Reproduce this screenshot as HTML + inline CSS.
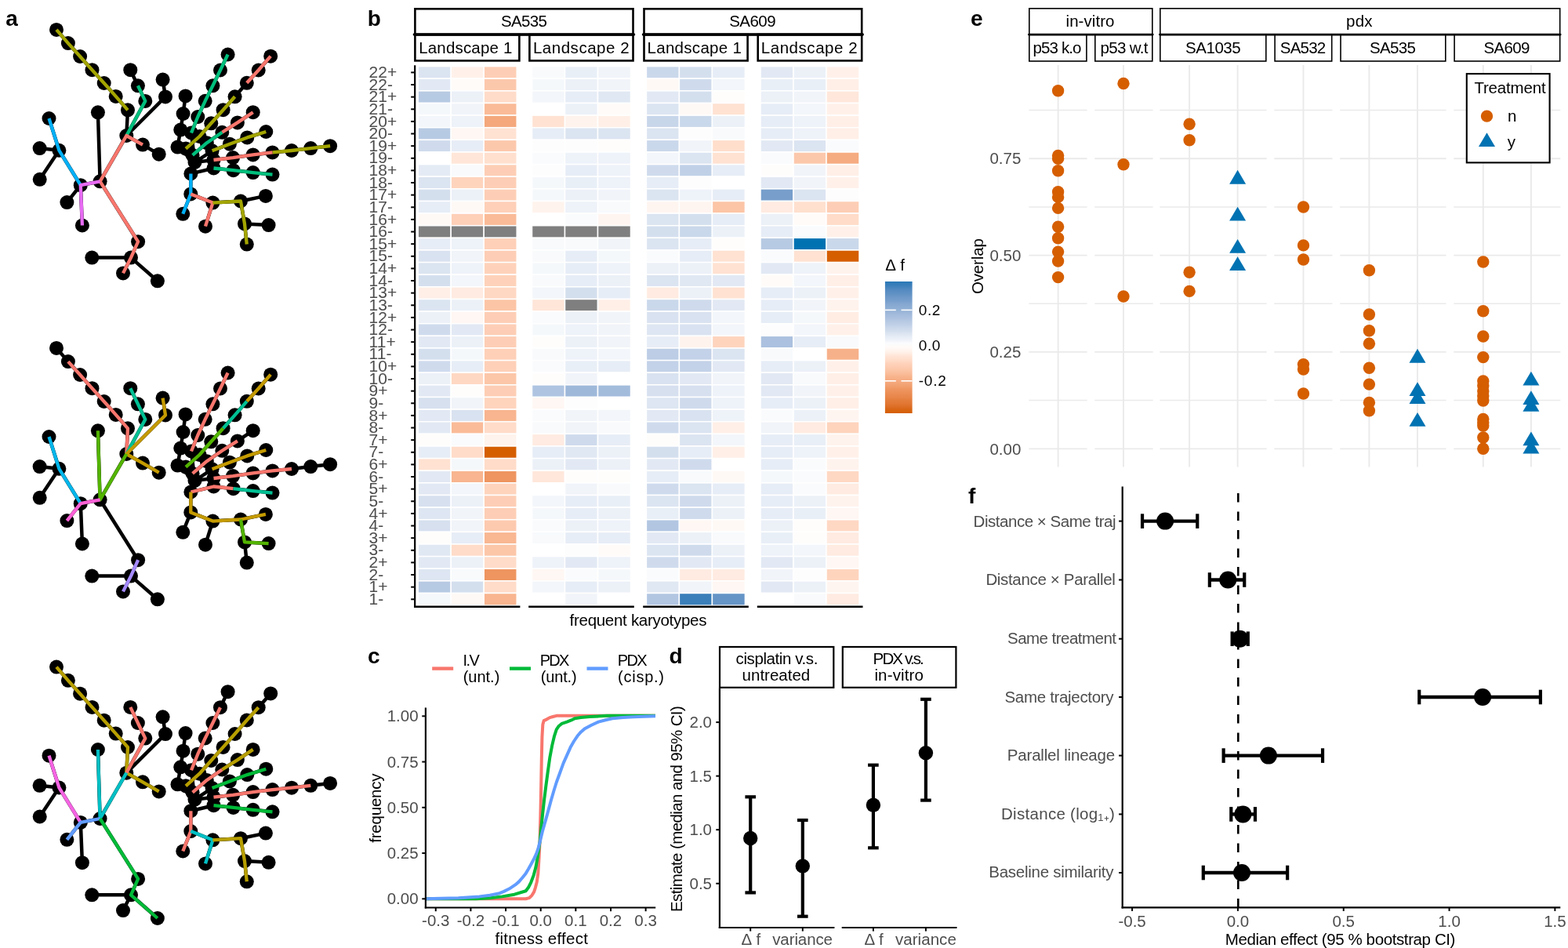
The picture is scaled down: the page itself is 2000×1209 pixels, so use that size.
<!DOCTYPE html>
<html><head><meta charset="utf-8"><title>Figure</title>
<style>
html,body{margin:0;padding:0;background:#fff;}
svg{display:block;}
svg text{font-family:'Liberation Sans', Arial, Helvetica, sans-serif;}
</style></head><body>
<svg width="2000" height="1209" viewBox="0 0 2000 1209">
<rect width="2000" height="1209" fill="#fff"/>
<text x="7.25" y="32.75" font-size="28" fill="#000" font-weight="bold" textLength="15.5" lengthAdjust="spacing">a</text>
<g transform="translate(0,0)">
<path d="M72,37.9L86.9,55.1 M86.9,55.1L102.1,72 M102.1,72L117.5,89.2 M117.5,89.2L132.7,106 M132.7,106L147.7,122.9 M147.7,122.9L163,140.3 M163,140.3L161.3,173 M161.3,173L127.6,231.3 M166.3,89.2L175.9,109.3 M175.9,109.3L185.3,128.9 M185.3,128.9L161.3,173 M207.6,101.6L211,123.4 M211,123.4L161.3,173 M161.3,173L182,184.6 M182,184.6L202.7,196.7 M124.9,143.3L127.6,231.3 M62.5,151L75.4,191.8 M75.4,191.8L102.8,236.2 M102.8,236.2L127.6,231.3 M127.6,231.3L176.1,308.2 M176.1,308.2L167,328.6 M167,328.6L157,348.4 M75.4,191.8L50.6,189.1 M75.4,191.8L50.7,228.8 M102.8,236.2L85.4,258.1 M102.8,236.2L104.9,287.5 M167,328.6L117.3,328.6 M167,328.6L200.9,358.3 M236.6,122.4L233.6,145 M233.6,145L230.3,165.6 M230.3,165.6L226.5,187.6 M226.5,187.6L248.5,207 M290.6,69.5L281,89.5 M281,89.5L271.4,109.3 M271.4,109.3L261.7,128.8 M261.7,128.8L252.3,149 M252.3,149L244,169.5 M244,169.5L248.5,207 M345.2,71.7L329.7,89.5 M329.7,89.5L314.8,105.8 M314.8,105.8L299.6,123.3 M299.6,123.3L284.6,140.2 M284.6,140.2L269.3,157.3 M269.3,157.3L254.5,174 M254.5,174L237,189.6 M237,189.6L248.5,207 M322.7,143.2L302.9,156.4 M302.9,156.4L283.3,168.8 M283.3,168.8L263.8,182.2 M263.8,182.2L245.6,197.9 M245.6,197.9L248.5,207 M339.3,168L315.3,175.4 M315.3,175.4L292.9,183.7 M292.9,183.7L270.6,192.3 M270.6,192.3L248.5,207 M421.1,186.2L396.3,189.1 M396.3,189.1L372,192 M372,192L347.5,194.4 M347.5,194.4L322.7,197.4 M322.7,197.4L297.1,201.1 M297.1,201.1L272.5,204 M272.5,204L248.5,207 M347.5,222.6L322.7,220.1 M322.7,220.1L297.6,217.2 M297.6,217.2L272.5,214.5 M272.5,214.5L243.4,221.5 M248.5,207L243.4,221.5 M243.4,221.5L243.3,247.4 M243.3,247.4L233.3,272.8 M243.3,247.4L271.4,258.6 M271.4,258.6L262,288.7 M271.4,258.6L307,256.5 M307,256.5L338.9,249.9 M307,256.5L312,285.4 M312,285.4L314.8,311.6 M312,285.4L342.6,287.1" stroke="#000" stroke-width="4.5" fill="none"/>
<circle cx="72" cy="37.9" r="9" fill="#000"/>
<circle cx="86.9" cy="55.1" r="9" fill="#000"/>
<circle cx="102.1" cy="72" r="9" fill="#000"/>
<circle cx="117.5" cy="89.2" r="9" fill="#000"/>
<circle cx="132.7" cy="106" r="9" fill="#000"/>
<circle cx="147.7" cy="122.9" r="9" fill="#000"/>
<circle cx="163" cy="140.3" r="9" fill="#000"/>
<circle cx="161.3" cy="173" r="9" fill="#000"/>
<circle cx="166.3" cy="89.2" r="9" fill="#000"/>
<circle cx="175.9" cy="109.3" r="9" fill="#000"/>
<circle cx="185.3" cy="128.9" r="9" fill="#000"/>
<circle cx="207.6" cy="101.6" r="9" fill="#000"/>
<circle cx="211" cy="123.4" r="9" fill="#000"/>
<circle cx="182" cy="184.6" r="9" fill="#000"/>
<circle cx="202.7" cy="196.7" r="9" fill="#000"/>
<circle cx="124.9" cy="143.3" r="9" fill="#000"/>
<circle cx="62.5" cy="151" r="9" fill="#000"/>
<circle cx="75.4" cy="191.8" r="9" fill="#000"/>
<circle cx="50.6" cy="189.1" r="9" fill="#000"/>
<circle cx="50.7" cy="228.8" r="9" fill="#000"/>
<circle cx="102.8" cy="236.2" r="9" fill="#000"/>
<circle cx="127.6" cy="231.3" r="9" fill="#000"/>
<circle cx="85.4" cy="258.1" r="9" fill="#000"/>
<circle cx="104.9" cy="287.5" r="9" fill="#000"/>
<circle cx="176.1" cy="308.2" r="9" fill="#000"/>
<circle cx="167" cy="328.6" r="9" fill="#000"/>
<circle cx="117.3" cy="328.6" r="9" fill="#000"/>
<circle cx="157" cy="348.4" r="9" fill="#000"/>
<circle cx="200.9" cy="358.3" r="9" fill="#000"/>
<circle cx="236.6" cy="122.4" r="9" fill="#000"/>
<circle cx="233.6" cy="145" r="9" fill="#000"/>
<circle cx="230.3" cy="165.6" r="9" fill="#000"/>
<circle cx="226.5" cy="187.6" r="9" fill="#000"/>
<circle cx="290.6" cy="69.5" r="9" fill="#000"/>
<circle cx="281" cy="89.5" r="9" fill="#000"/>
<circle cx="271.4" cy="109.3" r="9" fill="#000"/>
<circle cx="261.7" cy="128.8" r="9" fill="#000"/>
<circle cx="252.3" cy="149" r="9" fill="#000"/>
<circle cx="244" cy="169.5" r="9" fill="#000"/>
<circle cx="345.2" cy="71.7" r="9" fill="#000"/>
<circle cx="329.7" cy="89.5" r="9" fill="#000"/>
<circle cx="314.8" cy="105.8" r="9" fill="#000"/>
<circle cx="299.6" cy="123.3" r="9" fill="#000"/>
<circle cx="284.6" cy="140.2" r="9" fill="#000"/>
<circle cx="269.3" cy="157.3" r="9" fill="#000"/>
<circle cx="254.5" cy="174" r="9" fill="#000"/>
<circle cx="237" cy="189.6" r="9" fill="#000"/>
<circle cx="322.7" cy="143.2" r="9" fill="#000"/>
<circle cx="302.9" cy="156.4" r="9" fill="#000"/>
<circle cx="283.3" cy="168.8" r="9" fill="#000"/>
<circle cx="263.8" cy="182.2" r="9" fill="#000"/>
<circle cx="245.6" cy="197.9" r="9" fill="#000"/>
<circle cx="339.3" cy="168" r="9" fill="#000"/>
<circle cx="315.3" cy="175.4" r="9" fill="#000"/>
<circle cx="292.9" cy="183.7" r="9" fill="#000"/>
<circle cx="270.6" cy="192.3" r="9" fill="#000"/>
<circle cx="421.1" cy="186.2" r="9" fill="#000"/>
<circle cx="396.3" cy="189.1" r="9" fill="#000"/>
<circle cx="372" cy="192" r="9" fill="#000"/>
<circle cx="347.5" cy="194.4" r="9" fill="#000"/>
<circle cx="322.7" cy="197.4" r="9" fill="#000"/>
<circle cx="297.1" cy="201.1" r="9" fill="#000"/>
<circle cx="272.5" cy="204" r="9" fill="#000"/>
<circle cx="347.5" cy="222.6" r="9" fill="#000"/>
<circle cx="322.7" cy="220.1" r="9" fill="#000"/>
<circle cx="297.6" cy="217.2" r="9" fill="#000"/>
<circle cx="272.5" cy="214.5" r="9" fill="#000"/>
<circle cx="243.4" cy="221.5" r="9" fill="#000"/>
<circle cx="248.5" cy="207" r="9" fill="#000"/>
<circle cx="243.3" cy="247.4" r="9" fill="#000"/>
<circle cx="233.3" cy="272.8" r="9" fill="#000"/>
<circle cx="271.4" cy="258.6" r="9" fill="#000"/>
<circle cx="262" cy="288.7" r="9" fill="#000"/>
<circle cx="307" cy="256.5" r="9" fill="#000"/>
<circle cx="338.9" cy="249.9" r="9" fill="#000"/>
<circle cx="312" cy="285.4" r="9" fill="#000"/>
<circle cx="342.6" cy="287.1" r="9" fill="#000"/>
<circle cx="314.8" cy="311.6" r="9" fill="#000"/>
<polyline points="72,37.9 86.9,55.1 102.1,72 117.5,89.2 132.7,106 147.7,122.9 163,140.3" fill="none" stroke="#A3A500" stroke-width="4.3" stroke-linejoin="round"/>
<polyline points="175.9,109.3 185.3,128.9 161.3,173" fill="none" stroke="#00BF7D" stroke-width="4.3" stroke-linejoin="round"/>
<polyline points="182,184.6 161.3,173 127.6,231.3 176.1,308.2 167,328.6 157,348.4" fill="none" stroke="#F8766D" stroke-width="4.3" stroke-linejoin="round"/>
<polyline points="62.5,151 75.4,191.8 102.8,236.2" fill="none" stroke="#00B0F6" stroke-width="4.3" stroke-linejoin="round"/>
<polyline points="127.6,231.3 102.8,236.2 104.9,287.5" fill="none" stroke="#E76BF3" stroke-width="4.3" stroke-linejoin="round"/>
<polyline points="290.6,69.5 281,89.5 271.4,109.3 261.7,128.8 252.3,149 244,169.5" fill="none" stroke="#00BF7D" stroke-width="4.3" stroke-linejoin="round"/>
<polyline points="345.2,71.7 329.7,89.5 314.8,105.8" fill="none" stroke="#F8766D" stroke-width="4.3" stroke-linejoin="round"/>
<polyline points="299.6,123.3 284.6,140.2 269.3,157.3 254.5,174 237,189.6" fill="none" stroke="#A3A500" stroke-width="4.3" stroke-linejoin="round"/>
<polyline points="322.7,143.2 302.9,156.4 283.3,168.8" fill="none" stroke="#F8766D" stroke-width="4.3" stroke-linejoin="round"/>
<polyline points="283.3,168.8 263.8,182.2 245.6,197.9" fill="none" stroke="#00BF7D" stroke-width="4.3" stroke-linejoin="round"/>
<polyline points="339.3,168 315.3,175.4 292.9,183.7 270.6,192.3" fill="none" stroke="#A3A500" stroke-width="4.3" stroke-linejoin="round"/>
<polyline points="421.1,186.2 396.3,189.1 372,192 347.5,194.4" fill="none" stroke="#A3A500" stroke-width="4.3" stroke-linejoin="round"/>
<polyline points="347.5,194.4 322.7,197.4 297.1,201.1 272.5,204" fill="none" stroke="#F8766D" stroke-width="4.3" stroke-linejoin="round"/>
<polyline points="272.5,214.5 297.6,217.2 322.7,220.1 347.5,222.6" fill="none" stroke="#00BF7D" stroke-width="4.3" stroke-linejoin="round"/>
<polyline points="243.4,221.5 243.3,247.4 233.3,272.8" fill="none" stroke="#00B0F6" stroke-width="4.3" stroke-linejoin="round"/>
<polyline points="243.3,247.4 271.4,258.6 262,288.7" fill="none" stroke="#F8766D" stroke-width="4.3" stroke-linejoin="round"/>
<polyline points="271.4,258.6 307,256.5 312,285.4 314.8,311.6" fill="none" stroke="#A3A500" stroke-width="4.3" stroke-linejoin="round"/>
</g>
<g transform="translate(0,406)">
<path d="M72,37.9L86.9,55.1 M86.9,55.1L102.1,72 M102.1,72L117.5,89.2 M117.5,89.2L132.7,106 M132.7,106L147.7,122.9 M147.7,122.9L163,140.3 M163,140.3L161.3,173 M161.3,173L127.6,231.3 M166.3,89.2L175.9,109.3 M175.9,109.3L185.3,128.9 M185.3,128.9L161.3,173 M207.6,101.6L211,123.4 M211,123.4L161.3,173 M161.3,173L182,184.6 M182,184.6L202.7,196.7 M124.9,143.3L127.6,231.3 M62.5,151L75.4,191.8 M75.4,191.8L102.8,236.2 M102.8,236.2L127.6,231.3 M127.6,231.3L176.1,308.2 M176.1,308.2L167,328.6 M167,328.6L157,348.4 M75.4,191.8L50.6,189.1 M75.4,191.8L50.7,228.8 M102.8,236.2L85.4,258.1 M102.8,236.2L104.9,287.5 M167,328.6L117.3,328.6 M167,328.6L200.9,358.3 M236.6,122.4L233.6,145 M233.6,145L230.3,165.6 M230.3,165.6L226.5,187.6 M226.5,187.6L248.5,207 M290.6,69.5L281,89.5 M281,89.5L271.4,109.3 M271.4,109.3L261.7,128.8 M261.7,128.8L252.3,149 M252.3,149L244,169.5 M244,169.5L248.5,207 M345.2,71.7L329.7,89.5 M329.7,89.5L314.8,105.8 M314.8,105.8L299.6,123.3 M299.6,123.3L284.6,140.2 M284.6,140.2L269.3,157.3 M269.3,157.3L254.5,174 M254.5,174L237,189.6 M237,189.6L248.5,207 M322.7,143.2L302.9,156.4 M302.9,156.4L283.3,168.8 M283.3,168.8L263.8,182.2 M263.8,182.2L245.6,197.9 M245.6,197.9L248.5,207 M339.3,168L315.3,175.4 M315.3,175.4L292.9,183.7 M292.9,183.7L270.6,192.3 M270.6,192.3L248.5,207 M421.1,186.2L396.3,189.1 M396.3,189.1L372,192 M372,192L347.5,194.4 M347.5,194.4L322.7,197.4 M322.7,197.4L297.1,201.1 M297.1,201.1L272.5,204 M272.5,204L248.5,207 M347.5,222.6L322.7,220.1 M322.7,220.1L297.6,217.2 M297.6,217.2L272.5,214.5 M272.5,214.5L243.4,221.5 M248.5,207L243.4,221.5 M243.4,221.5L243.3,247.4 M243.3,247.4L233.3,272.8 M243.3,247.4L271.4,258.6 M271.4,258.6L262,288.7 M271.4,258.6L307,256.5 M307,256.5L338.9,249.9 M307,256.5L312,285.4 M312,285.4L314.8,311.6 M312,285.4L342.6,287.1" stroke="#000" stroke-width="4.5" fill="none"/>
<circle cx="72" cy="37.9" r="9" fill="#000"/>
<circle cx="86.9" cy="55.1" r="9" fill="#000"/>
<circle cx="102.1" cy="72" r="9" fill="#000"/>
<circle cx="117.5" cy="89.2" r="9" fill="#000"/>
<circle cx="132.7" cy="106" r="9" fill="#000"/>
<circle cx="147.7" cy="122.9" r="9" fill="#000"/>
<circle cx="163" cy="140.3" r="9" fill="#000"/>
<circle cx="161.3" cy="173" r="9" fill="#000"/>
<circle cx="166.3" cy="89.2" r="9" fill="#000"/>
<circle cx="175.9" cy="109.3" r="9" fill="#000"/>
<circle cx="185.3" cy="128.9" r="9" fill="#000"/>
<circle cx="207.6" cy="101.6" r="9" fill="#000"/>
<circle cx="211" cy="123.4" r="9" fill="#000"/>
<circle cx="182" cy="184.6" r="9" fill="#000"/>
<circle cx="202.7" cy="196.7" r="9" fill="#000"/>
<circle cx="124.9" cy="143.3" r="9" fill="#000"/>
<circle cx="62.5" cy="151" r="9" fill="#000"/>
<circle cx="75.4" cy="191.8" r="9" fill="#000"/>
<circle cx="50.6" cy="189.1" r="9" fill="#000"/>
<circle cx="50.7" cy="228.8" r="9" fill="#000"/>
<circle cx="102.8" cy="236.2" r="9" fill="#000"/>
<circle cx="127.6" cy="231.3" r="9" fill="#000"/>
<circle cx="85.4" cy="258.1" r="9" fill="#000"/>
<circle cx="104.9" cy="287.5" r="9" fill="#000"/>
<circle cx="176.1" cy="308.2" r="9" fill="#000"/>
<circle cx="167" cy="328.6" r="9" fill="#000"/>
<circle cx="117.3" cy="328.6" r="9" fill="#000"/>
<circle cx="157" cy="348.4" r="9" fill="#000"/>
<circle cx="200.9" cy="358.3" r="9" fill="#000"/>
<circle cx="236.6" cy="122.4" r="9" fill="#000"/>
<circle cx="233.6" cy="145" r="9" fill="#000"/>
<circle cx="230.3" cy="165.6" r="9" fill="#000"/>
<circle cx="226.5" cy="187.6" r="9" fill="#000"/>
<circle cx="290.6" cy="69.5" r="9" fill="#000"/>
<circle cx="281" cy="89.5" r="9" fill="#000"/>
<circle cx="271.4" cy="109.3" r="9" fill="#000"/>
<circle cx="261.7" cy="128.8" r="9" fill="#000"/>
<circle cx="252.3" cy="149" r="9" fill="#000"/>
<circle cx="244" cy="169.5" r="9" fill="#000"/>
<circle cx="345.2" cy="71.7" r="9" fill="#000"/>
<circle cx="329.7" cy="89.5" r="9" fill="#000"/>
<circle cx="314.8" cy="105.8" r="9" fill="#000"/>
<circle cx="299.6" cy="123.3" r="9" fill="#000"/>
<circle cx="284.6" cy="140.2" r="9" fill="#000"/>
<circle cx="269.3" cy="157.3" r="9" fill="#000"/>
<circle cx="254.5" cy="174" r="9" fill="#000"/>
<circle cx="237" cy="189.6" r="9" fill="#000"/>
<circle cx="322.7" cy="143.2" r="9" fill="#000"/>
<circle cx="302.9" cy="156.4" r="9" fill="#000"/>
<circle cx="283.3" cy="168.8" r="9" fill="#000"/>
<circle cx="263.8" cy="182.2" r="9" fill="#000"/>
<circle cx="245.6" cy="197.9" r="9" fill="#000"/>
<circle cx="339.3" cy="168" r="9" fill="#000"/>
<circle cx="315.3" cy="175.4" r="9" fill="#000"/>
<circle cx="292.9" cy="183.7" r="9" fill="#000"/>
<circle cx="270.6" cy="192.3" r="9" fill="#000"/>
<circle cx="421.1" cy="186.2" r="9" fill="#000"/>
<circle cx="396.3" cy="189.1" r="9" fill="#000"/>
<circle cx="372" cy="192" r="9" fill="#000"/>
<circle cx="347.5" cy="194.4" r="9" fill="#000"/>
<circle cx="322.7" cy="197.4" r="9" fill="#000"/>
<circle cx="297.1" cy="201.1" r="9" fill="#000"/>
<circle cx="272.5" cy="204" r="9" fill="#000"/>
<circle cx="347.5" cy="222.6" r="9" fill="#000"/>
<circle cx="322.7" cy="220.1" r="9" fill="#000"/>
<circle cx="297.6" cy="217.2" r="9" fill="#000"/>
<circle cx="272.5" cy="214.5" r="9" fill="#000"/>
<circle cx="243.4" cy="221.5" r="9" fill="#000"/>
<circle cx="248.5" cy="207" r="9" fill="#000"/>
<circle cx="243.3" cy="247.4" r="9" fill="#000"/>
<circle cx="233.3" cy="272.8" r="9" fill="#000"/>
<circle cx="271.4" cy="258.6" r="9" fill="#000"/>
<circle cx="262" cy="288.7" r="9" fill="#000"/>
<circle cx="307" cy="256.5" r="9" fill="#000"/>
<circle cx="338.9" cy="249.9" r="9" fill="#000"/>
<circle cx="312" cy="285.4" r="9" fill="#000"/>
<circle cx="342.6" cy="287.1" r="9" fill="#000"/>
<circle cx="314.8" cy="311.6" r="9" fill="#000"/>
<polyline points="86.9,55.1 102.1,72 117.5,89.2 132.7,106 147.7,122.9 163,140.3 161.3,173" fill="none" stroke="#F8766D" stroke-width="4.3" stroke-linejoin="round"/>
<polyline points="166.3,89.2 175.9,109.3 185.3,128.9 161.3,173" fill="none" stroke="#00C094" stroke-width="4.3" stroke-linejoin="round"/>
<polyline points="207.6,101.6 211,123.4 161.3,173 182,184.6 202.7,196.7" fill="none" stroke="#C49A00" stroke-width="4.3" stroke-linejoin="round"/>
<polyline points="124.9,143.3 127.6,231.3 161.3,173" fill="none" stroke="#53B400" stroke-width="4.3" stroke-linejoin="round"/>
<polyline points="62.5,151 75.4,191.8 102.8,236.2" fill="none" stroke="#00B6EB" stroke-width="4.3" stroke-linejoin="round"/>
<polyline points="127.6,231.3 102.8,236.2 85.4,258.1" fill="none" stroke="#FB61D7" stroke-width="4.3" stroke-linejoin="round"/>
<polyline points="176.1,308.2 167,328.6 157,348.4" fill="none" stroke="#A58AFF" stroke-width="4.3" stroke-linejoin="round"/>
<polyline points="290.6,69.5 281,89.5 271.4,109.3 261.7,128.8 252.3,149 244,169.5" fill="none" stroke="#F8766D" stroke-width="4.3" stroke-linejoin="round"/>
<polyline points="345.2,71.7 329.7,89.5 314.8,105.8" fill="none" stroke="#C49A00" stroke-width="4.3" stroke-linejoin="round"/>
<polyline points="314.8,105.8 299.6,123.3 284.6,140.2" fill="none" stroke="#00C094" stroke-width="4.3" stroke-linejoin="round"/>
<polyline points="284.6,140.2 269.3,157.3 254.5,174 237,189.6" fill="none" stroke="#53B400" stroke-width="4.3" stroke-linejoin="round"/>
<polyline points="302.9,156.4 283.3,168.8 263.8,182.2 245.6,197.9" fill="none" stroke="#F8766D" stroke-width="4.3" stroke-linejoin="round"/>
<polyline points="339.3,168 315.3,175.4 292.9,183.7 270.6,192.3" fill="none" stroke="#C49A00" stroke-width="4.3" stroke-linejoin="round"/>
<polyline points="372,192 347.5,194.4 322.7,197.4 297.1,201.1 272.5,204" fill="none" stroke="#F8766D" stroke-width="4.3" stroke-linejoin="round"/>
<polyline points="243.4,221.5 272.5,214.5 297.6,217.2" fill="none" stroke="#F8766D" stroke-width="4.3" stroke-linejoin="round"/>
<polyline points="297.6,217.2 322.7,220.1 347.5,222.6" fill="none" stroke="#00C094" stroke-width="4.3" stroke-linejoin="round"/>
<polyline points="243.4,221.5 243.3,247.4 271.4,258.6 307,256.5 338.9,249.9" fill="none" stroke="#C49A00" stroke-width="4.3" stroke-linejoin="round"/>
<polyline points="307,256.5 312,285.4 342.6,287.1" fill="none" stroke="#53B400" stroke-width="4.3" stroke-linejoin="round"/>
</g>
<g transform="translate(0,812.7)">
<path d="M72,37.9L86.9,55.1 M86.9,55.1L102.1,72 M102.1,72L117.5,89.2 M117.5,89.2L132.7,106 M132.7,106L147.7,122.9 M147.7,122.9L163,140.3 M163,140.3L161.3,173 M161.3,173L127.6,231.3 M166.3,89.2L175.9,109.3 M175.9,109.3L185.3,128.9 M185.3,128.9L161.3,173 M207.6,101.6L211,123.4 M211,123.4L161.3,173 M161.3,173L182,184.6 M182,184.6L202.7,196.7 M124.9,143.3L127.6,231.3 M62.5,151L75.4,191.8 M75.4,191.8L102.8,236.2 M102.8,236.2L127.6,231.3 M127.6,231.3L176.1,308.2 M176.1,308.2L167,328.6 M167,328.6L157,348.4 M75.4,191.8L50.6,189.1 M75.4,191.8L50.7,228.8 M102.8,236.2L85.4,258.1 M102.8,236.2L104.9,287.5 M167,328.6L117.3,328.6 M167,328.6L200.9,358.3 M236.6,122.4L233.6,145 M233.6,145L230.3,165.6 M230.3,165.6L226.5,187.6 M226.5,187.6L248.5,207 M290.6,69.5L281,89.5 M281,89.5L271.4,109.3 M271.4,109.3L261.7,128.8 M261.7,128.8L252.3,149 M252.3,149L244,169.5 M244,169.5L248.5,207 M345.2,71.7L329.7,89.5 M329.7,89.5L314.8,105.8 M314.8,105.8L299.6,123.3 M299.6,123.3L284.6,140.2 M284.6,140.2L269.3,157.3 M269.3,157.3L254.5,174 M254.5,174L237,189.6 M237,189.6L248.5,207 M322.7,143.2L302.9,156.4 M302.9,156.4L283.3,168.8 M283.3,168.8L263.8,182.2 M263.8,182.2L245.6,197.9 M245.6,197.9L248.5,207 M339.3,168L315.3,175.4 M315.3,175.4L292.9,183.7 M292.9,183.7L270.6,192.3 M270.6,192.3L248.5,207 M421.1,186.2L396.3,189.1 M396.3,189.1L372,192 M372,192L347.5,194.4 M347.5,194.4L322.7,197.4 M322.7,197.4L297.1,201.1 M297.1,201.1L272.5,204 M272.5,204L248.5,207 M347.5,222.6L322.7,220.1 M322.7,220.1L297.6,217.2 M297.6,217.2L272.5,214.5 M272.5,214.5L243.4,221.5 M248.5,207L243.4,221.5 M243.4,221.5L243.3,247.4 M243.3,247.4L233.3,272.8 M243.3,247.4L271.4,258.6 M271.4,258.6L262,288.7 M271.4,258.6L307,256.5 M307,256.5L338.9,249.9 M307,256.5L312,285.4 M312,285.4L314.8,311.6 M312,285.4L342.6,287.1" stroke="#000" stroke-width="4.5" fill="none"/>
<circle cx="72" cy="37.9" r="9" fill="#000"/>
<circle cx="86.9" cy="55.1" r="9" fill="#000"/>
<circle cx="102.1" cy="72" r="9" fill="#000"/>
<circle cx="117.5" cy="89.2" r="9" fill="#000"/>
<circle cx="132.7" cy="106" r="9" fill="#000"/>
<circle cx="147.7" cy="122.9" r="9" fill="#000"/>
<circle cx="163" cy="140.3" r="9" fill="#000"/>
<circle cx="161.3" cy="173" r="9" fill="#000"/>
<circle cx="166.3" cy="89.2" r="9" fill="#000"/>
<circle cx="175.9" cy="109.3" r="9" fill="#000"/>
<circle cx="185.3" cy="128.9" r="9" fill="#000"/>
<circle cx="207.6" cy="101.6" r="9" fill="#000"/>
<circle cx="211" cy="123.4" r="9" fill="#000"/>
<circle cx="182" cy="184.6" r="9" fill="#000"/>
<circle cx="202.7" cy="196.7" r="9" fill="#000"/>
<circle cx="124.9" cy="143.3" r="9" fill="#000"/>
<circle cx="62.5" cy="151" r="9" fill="#000"/>
<circle cx="75.4" cy="191.8" r="9" fill="#000"/>
<circle cx="50.6" cy="189.1" r="9" fill="#000"/>
<circle cx="50.7" cy="228.8" r="9" fill="#000"/>
<circle cx="102.8" cy="236.2" r="9" fill="#000"/>
<circle cx="127.6" cy="231.3" r="9" fill="#000"/>
<circle cx="85.4" cy="258.1" r="9" fill="#000"/>
<circle cx="104.9" cy="287.5" r="9" fill="#000"/>
<circle cx="176.1" cy="308.2" r="9" fill="#000"/>
<circle cx="167" cy="328.6" r="9" fill="#000"/>
<circle cx="117.3" cy="328.6" r="9" fill="#000"/>
<circle cx="157" cy="348.4" r="9" fill="#000"/>
<circle cx="200.9" cy="358.3" r="9" fill="#000"/>
<circle cx="236.6" cy="122.4" r="9" fill="#000"/>
<circle cx="233.6" cy="145" r="9" fill="#000"/>
<circle cx="230.3" cy="165.6" r="9" fill="#000"/>
<circle cx="226.5" cy="187.6" r="9" fill="#000"/>
<circle cx="290.6" cy="69.5" r="9" fill="#000"/>
<circle cx="281" cy="89.5" r="9" fill="#000"/>
<circle cx="271.4" cy="109.3" r="9" fill="#000"/>
<circle cx="261.7" cy="128.8" r="9" fill="#000"/>
<circle cx="252.3" cy="149" r="9" fill="#000"/>
<circle cx="244" cy="169.5" r="9" fill="#000"/>
<circle cx="345.2" cy="71.7" r="9" fill="#000"/>
<circle cx="329.7" cy="89.5" r="9" fill="#000"/>
<circle cx="314.8" cy="105.8" r="9" fill="#000"/>
<circle cx="299.6" cy="123.3" r="9" fill="#000"/>
<circle cx="284.6" cy="140.2" r="9" fill="#000"/>
<circle cx="269.3" cy="157.3" r="9" fill="#000"/>
<circle cx="254.5" cy="174" r="9" fill="#000"/>
<circle cx="237" cy="189.6" r="9" fill="#000"/>
<circle cx="322.7" cy="143.2" r="9" fill="#000"/>
<circle cx="302.9" cy="156.4" r="9" fill="#000"/>
<circle cx="283.3" cy="168.8" r="9" fill="#000"/>
<circle cx="263.8" cy="182.2" r="9" fill="#000"/>
<circle cx="245.6" cy="197.9" r="9" fill="#000"/>
<circle cx="339.3" cy="168" r="9" fill="#000"/>
<circle cx="315.3" cy="175.4" r="9" fill="#000"/>
<circle cx="292.9" cy="183.7" r="9" fill="#000"/>
<circle cx="270.6" cy="192.3" r="9" fill="#000"/>
<circle cx="421.1" cy="186.2" r="9" fill="#000"/>
<circle cx="396.3" cy="189.1" r="9" fill="#000"/>
<circle cx="372" cy="192" r="9" fill="#000"/>
<circle cx="347.5" cy="194.4" r="9" fill="#000"/>
<circle cx="322.7" cy="197.4" r="9" fill="#000"/>
<circle cx="297.1" cy="201.1" r="9" fill="#000"/>
<circle cx="272.5" cy="204" r="9" fill="#000"/>
<circle cx="347.5" cy="222.6" r="9" fill="#000"/>
<circle cx="322.7" cy="220.1" r="9" fill="#000"/>
<circle cx="297.6" cy="217.2" r="9" fill="#000"/>
<circle cx="272.5" cy="214.5" r="9" fill="#000"/>
<circle cx="243.4" cy="221.5" r="9" fill="#000"/>
<circle cx="248.5" cy="207" r="9" fill="#000"/>
<circle cx="243.3" cy="247.4" r="9" fill="#000"/>
<circle cx="233.3" cy="272.8" r="9" fill="#000"/>
<circle cx="271.4" cy="258.6" r="9" fill="#000"/>
<circle cx="262" cy="288.7" r="9" fill="#000"/>
<circle cx="307" cy="256.5" r="9" fill="#000"/>
<circle cx="338.9" cy="249.9" r="9" fill="#000"/>
<circle cx="312" cy="285.4" r="9" fill="#000"/>
<circle cx="342.6" cy="287.1" r="9" fill="#000"/>
<circle cx="314.8" cy="311.6" r="9" fill="#000"/>
<polyline points="72,37.9 86.9,55.1 102.1,72 117.5,89.2 132.7,106 147.7,122.9 163,140.3 161.3,173 182,184.6 202.7,196.7" fill="none" stroke="#B79F00" stroke-width="4.3" stroke-linejoin="round"/>
<polyline points="166.3,89.2 175.9,109.3 185.3,128.9 161.3,173" fill="none" stroke="#F8766D" stroke-width="4.3" stroke-linejoin="round"/>
<polyline points="124.9,143.3 127.6,231.3 161.3,173" fill="none" stroke="#00BFC4" stroke-width="4.3" stroke-linejoin="round"/>
<polyline points="62.5,151 75.4,191.8 102.8,236.2" fill="none" stroke="#F564E3" stroke-width="4.3" stroke-linejoin="round"/>
<polyline points="127.6,231.3 102.8,236.2 85.4,258.1" fill="none" stroke="#619CFF" stroke-width="4.3" stroke-linejoin="round"/>
<polyline points="127.6,231.3 176.1,308.2 167,328.6 200.9,358.3" fill="none" stroke="#00BA38" stroke-width="4.3" stroke-linejoin="round"/>
<polyline points="281,89.5 271.4,109.3 261.7,128.8 252.3,149 244,169.5" fill="none" stroke="#F8766D" stroke-width="4.3" stroke-linejoin="round"/>
<polyline points="329.7,89.5 314.8,105.8 299.6,123.3 284.6,140.2 269.3,157.3 254.5,174 237,189.6" fill="none" stroke="#B79F00" stroke-width="4.3" stroke-linejoin="round"/>
<polyline points="322.7,143.2 302.9,156.4 283.3,168.8" fill="none" stroke="#B79F00" stroke-width="4.3" stroke-linejoin="round"/>
<polyline points="283.3,168.8 263.8,182.2 245.6,197.9" fill="none" stroke="#F8766D" stroke-width="4.3" stroke-linejoin="round"/>
<polyline points="339.3,168 315.3,175.4 292.9,183.7 270.6,192.3" fill="none" stroke="#00BA38" stroke-width="4.3" stroke-linejoin="round"/>
<polyline points="396.3,189.1 372,192 347.5,194.4 322.7,197.4 297.1,201.1 272.5,204" fill="none" stroke="#F8766D" stroke-width="4.3" stroke-linejoin="round"/>
<polyline points="272.5,214.5 297.6,217.2 322.7,220.1 347.5,222.6" fill="none" stroke="#00BA38" stroke-width="4.3" stroke-linejoin="round"/>
<polyline points="243.4,221.5 243.3,247.4 233.3,272.8" fill="none" stroke="#F8766D" stroke-width="4.3" stroke-linejoin="round"/>
<polyline points="243.3,247.4 271.4,258.6 262,288.7" fill="none" stroke="#00BFC4" stroke-width="4.3" stroke-linejoin="round"/>
<polyline points="271.4,258.6 307,256.5 312,285.4 314.8,311.6" fill="none" stroke="#B79F00" stroke-width="4.3" stroke-linejoin="round"/>
</g>
<g stroke="#fff" stroke-width="1.5"><rect x="533.2" y="84.59" width="42" height="15.62" fill="#DBE4F1"/><rect x="575.2" y="84.59" width="42" height="15.62" fill="#FFF1EA"/><rect x="617.2" y="84.59" width="42" height="15.62" fill="#FDCEB5"/><rect x="533.2" y="100.22" width="42" height="15.62" fill="#E2E9F4"/><rect x="575.2" y="100.22" width="42" height="15.62" fill="#FFFBF9"/><rect x="617.2" y="100.22" width="42" height="15.62" fill="#FCC8AC"/><rect x="533.2" y="115.84" width="42" height="15.62" fill="#B7CAE3"/><rect x="575.2" y="115.84" width="42" height="15.62" fill="#ECF1F8"/><rect x="617.2" y="115.84" width="42" height="15.62" fill="#FFDCC9"/><rect x="533.2" y="131.47" width="42" height="15.62" fill="#F5F8FB"/><rect x="575.2" y="131.47" width="42" height="15.62" fill="#F1F4F9"/><rect x="617.2" y="131.47" width="42" height="15.62" fill="#FABB98"/><rect x="533.2" y="147.09" width="42" height="15.62" fill="#F3F6FA"/><rect x="575.2" y="147.09" width="42" height="15.62" fill="#EEF2F9"/><rect x="617.2" y="147.09" width="42" height="15.62" fill="#F4A87C"/><rect x="533.2" y="162.72" width="42" height="15.62" fill="#B7CAE3"/><rect x="575.2" y="162.72" width="42" height="15.62" fill="#FFF7F3"/><rect x="617.2" y="162.72" width="42" height="15.62" fill="#FFE2D2"/><rect x="533.2" y="178.34" width="42" height="15.62" fill="#CFDBED"/><rect x="575.2" y="178.34" width="42" height="15.62" fill="#E7EDF6"/><rect x="617.2" y="178.34" width="42" height="15.62" fill="#FCC8AC"/><rect x="533.2" y="193.97" width="42" height="15.62" fill="#FFFFFF"/><rect x="575.2" y="193.97" width="42" height="15.62" fill="#FFE6D8"/><rect x="617.2" y="193.97" width="42" height="15.62" fill="#FFE0CF"/><rect x="533.2" y="209.59" width="42" height="15.62" fill="#E5EBF5"/><rect x="575.2" y="209.59" width="42" height="15.62" fill="#F8FAFC"/><rect x="617.2" y="209.59" width="42" height="15.62" fill="#FDCEB5"/><rect x="533.2" y="225.22" width="42" height="15.62" fill="#DBE4F1"/><rect x="575.2" y="225.22" width="42" height="15.62" fill="#FED4BD"/><rect x="617.2" y="225.22" width="42" height="15.62" fill="#FDCEB5"/><rect x="533.2" y="240.84" width="42" height="15.62" fill="#D4DFEE"/><rect x="575.2" y="240.84" width="42" height="15.62" fill="#ECF1F8"/><rect x="617.2" y="240.84" width="42" height="15.62" fill="#FDCEB5"/><rect x="533.2" y="256.47" width="42" height="15.62" fill="#E7EDF6"/><rect x="575.2" y="256.47" width="42" height="15.62" fill="#FFF9F6"/><rect x="617.2" y="256.47" width="42" height="15.62" fill="#FED0B8"/><rect x="533.2" y="272.09" width="42" height="15.62" fill="#FFF9F6"/><rect x="575.2" y="272.09" width="42" height="15.62" fill="#FED0B8"/><rect x="617.2" y="272.09" width="42" height="15.62" fill="#FABB98"/><rect x="533.2" y="287.72" width="42" height="15.62" fill="#7F7F7F"/><rect x="575.2" y="287.72" width="42" height="15.62" fill="#7F7F7F"/><rect x="617.2" y="287.72" width="42" height="15.62" fill="#7F7F7F"/><rect x="533.2" y="303.34" width="42" height="15.62" fill="#E7EDF6"/><rect x="575.2" y="303.34" width="42" height="15.62" fill="#EEF2F9"/><rect x="617.2" y="303.34" width="42" height="15.62" fill="#FED0B8"/><rect x="533.2" y="318.97" width="42" height="15.62" fill="#D9E2F0"/><rect x="575.2" y="318.97" width="42" height="15.62" fill="#F1F4F9"/><rect x="617.2" y="318.97" width="42" height="15.62" fill="#FDCEB5"/><rect x="533.2" y="334.59" width="42" height="15.62" fill="#DBE4F1"/><rect x="575.2" y="334.59" width="42" height="15.62" fill="#EEF2F9"/><rect x="617.2" y="334.59" width="42" height="15.62" fill="#FED2BA"/><rect x="533.2" y="350.22" width="42" height="15.62" fill="#D4DFEE"/><rect x="575.2" y="350.22" width="42" height="15.62" fill="#F3F6FA"/><rect x="617.2" y="350.22" width="42" height="15.62" fill="#FED2BA"/><rect x="533.2" y="365.84" width="42" height="15.62" fill="#FFEFE7"/><rect x="575.2" y="365.84" width="42" height="15.62" fill="#FFEBE1"/><rect x="617.2" y="365.84" width="42" height="15.62" fill="#FFD8C3"/><rect x="533.2" y="381.47" width="42" height="15.62" fill="#DBE4F1"/><rect x="575.2" y="381.47" width="42" height="15.62" fill="#ECF1F8"/><rect x="617.2" y="381.47" width="42" height="15.62" fill="#FCC5A6"/><rect x="533.2" y="397.09" width="42" height="15.62" fill="#ECF1F8"/><rect x="575.2" y="397.09" width="42" height="15.62" fill="#FFF7F3"/><rect x="617.2" y="397.09" width="42" height="15.62" fill="#FDCEB5"/><rect x="533.2" y="412.72" width="42" height="15.62" fill="#CFDBED"/><rect x="575.2" y="412.72" width="42" height="15.62" fill="#E2E9F4"/><rect x="617.2" y="412.72" width="42" height="15.62" fill="#FDCEB5"/><rect x="533.2" y="428.34" width="42" height="15.62" fill="#E2E9F4"/><rect x="575.2" y="428.34" width="42" height="15.62" fill="#ECF1F8"/><rect x="617.2" y="428.34" width="42" height="15.62" fill="#FDCEB5"/><rect x="533.2" y="443.97" width="42" height="15.62" fill="#D4DFEE"/><rect x="575.2" y="443.97" width="42" height="15.62" fill="#F5F8FB"/><rect x="617.2" y="443.97" width="42" height="15.62" fill="#FED0B8"/><rect x="533.2" y="459.59" width="42" height="15.62" fill="#CFDBED"/><rect x="575.2" y="459.59" width="42" height="15.62" fill="#E7EDF6"/><rect x="617.2" y="459.59" width="42" height="15.62" fill="#FED0B8"/><rect x="533.2" y="475.22" width="42" height="15.62" fill="#ECF1F8"/><rect x="575.2" y="475.22" width="42" height="15.62" fill="#FFD8C3"/><rect x="617.2" y="475.22" width="42" height="15.62" fill="#FCC7A9"/><rect x="533.2" y="490.84" width="42" height="15.62" fill="#E2E9F4"/><rect x="575.2" y="490.84" width="42" height="15.62" fill="#FFFDFC"/><rect x="617.2" y="490.84" width="42" height="15.62" fill="#FDCEB5"/><rect x="533.2" y="506.47" width="42" height="15.62" fill="#D6E0EF"/><rect x="575.2" y="506.47" width="42" height="15.62" fill="#F1F4F9"/><rect x="617.2" y="506.47" width="42" height="15.62" fill="#FED4BD"/><rect x="533.2" y="522.09" width="42" height="15.62" fill="#E2E9F4"/><rect x="575.2" y="522.09" width="42" height="15.62" fill="#D9E2F0"/><rect x="617.2" y="522.09" width="42" height="15.62" fill="#F8B58F"/><rect x="533.2" y="537.72" width="42" height="15.62" fill="#E2E9F4"/><rect x="575.2" y="537.72" width="42" height="15.62" fill="#FABB98"/><rect x="617.2" y="537.72" width="42" height="15.62" fill="#FFDCC9"/><rect x="533.2" y="553.34" width="42" height="15.62" fill="#FFFDFC"/><rect x="575.2" y="553.34" width="42" height="15.62" fill="#FAFBFD"/><rect x="617.2" y="553.34" width="42" height="15.62" fill="#FFF3ED"/><rect x="533.2" y="568.97" width="42" height="15.62" fill="#E7EDF6"/><rect x="575.2" y="568.97" width="42" height="15.62" fill="#FFDCC9"/><rect x="617.2" y="568.97" width="42" height="15.62" fill="#D55E00"/><rect x="533.2" y="584.59" width="42" height="15.62" fill="#FFE2D2"/><rect x="575.2" y="584.59" width="42" height="15.62" fill="#F5F8FB"/><rect x="617.2" y="584.59" width="42" height="15.62" fill="#FFDCC9"/><rect x="533.2" y="600.22" width="42" height="15.62" fill="#E2E9F4"/><rect x="575.2" y="600.22" width="42" height="15.62" fill="#F8B58F"/><rect x="617.2" y="600.22" width="42" height="15.62" fill="#EE9560"/><rect x="533.2" y="615.84" width="42" height="15.62" fill="#E2E9F4"/><rect x="575.2" y="615.84" width="42" height="15.62" fill="#F3F6FA"/><rect x="617.2" y="615.84" width="42" height="15.62" fill="#FED4BD"/><rect x="533.2" y="631.47" width="42" height="15.62" fill="#D6E0EF"/><rect x="575.2" y="631.47" width="42" height="15.62" fill="#ECF1F8"/><rect x="617.2" y="631.47" width="42" height="15.62" fill="#FDCEB5"/><rect x="533.2" y="647.09" width="42" height="15.62" fill="#DDE6F2"/><rect x="575.2" y="647.09" width="42" height="15.62" fill="#F1F4F9"/><rect x="617.2" y="647.09" width="42" height="15.62" fill="#FDCEB5"/><rect x="533.2" y="662.72" width="42" height="15.62" fill="#D6E0EF"/><rect x="575.2" y="662.72" width="42" height="15.62" fill="#F1F4F9"/><rect x="617.2" y="662.72" width="42" height="15.62" fill="#FDCAAF"/><rect x="533.2" y="678.34" width="42" height="15.62" fill="#FFFDFC"/><rect x="575.2" y="678.34" width="42" height="15.62" fill="#E7EDF6"/><rect x="617.2" y="678.34" width="42" height="15.62" fill="#F9B792"/><rect x="533.2" y="693.97" width="42" height="15.62" fill="#E0E8F3"/><rect x="575.2" y="693.97" width="42" height="15.62" fill="#FFDCC9"/><rect x="617.2" y="693.97" width="42" height="15.62" fill="#FCC7A9"/><rect x="533.2" y="709.59" width="42" height="15.62" fill="#E2E9F4"/><rect x="575.2" y="709.59" width="42" height="15.62" fill="#ECF1F8"/><rect x="617.2" y="709.59" width="42" height="15.62" fill="#FFDCC9"/><rect x="533.2" y="725.22" width="42" height="15.62" fill="#DDE6F2"/><rect x="575.2" y="725.22" width="42" height="15.62" fill="#F8FAFC"/><rect x="617.2" y="725.22" width="42" height="15.62" fill="#EE9560"/><rect x="533.2" y="740.84" width="42" height="15.62" fill="#B7CAE3"/><rect x="575.2" y="740.84" width="42" height="15.62" fill="#D4DFEE"/><rect x="617.2" y="740.84" width="42" height="15.62" fill="#FFDCC9"/><rect x="533.2" y="756.47" width="42" height="15.62" fill="#F5F8FB"/><rect x="575.2" y="756.47" width="42" height="15.62" fill="#FFF9F6"/><rect x="617.2" y="756.47" width="42" height="15.62" fill="#F8B58F"/><rect x="678.5" y="84.59" width="42" height="15.62" fill="#F8FAFC"/><rect x="720.5" y="84.59" width="42" height="15.62" fill="#E9EFF7"/><rect x="762.5" y="84.59" width="42" height="15.62" fill="#F1F4F9"/><rect x="678.5" y="100.22" width="42" height="15.62" fill="#F5F8FB"/><rect x="720.5" y="100.22" width="42" height="15.62" fill="#ECF1F8"/><rect x="762.5" y="100.22" width="42" height="15.62" fill="#F1F4F9"/><rect x="678.5" y="115.84" width="42" height="15.62" fill="#F3F6FA"/><rect x="720.5" y="115.84" width="42" height="15.62" fill="#E7EDF6"/><rect x="762.5" y="115.84" width="42" height="15.62" fill="#E0E8F3"/><rect x="678.5" y="131.47" width="42" height="15.62" fill="#FFFFFF"/><rect x="720.5" y="131.47" width="42" height="15.62" fill="#ECF1F8"/><rect x="762.5" y="131.47" width="42" height="15.62" fill="#FFFBF9"/><rect x="678.5" y="147.09" width="42" height="15.62" fill="#FFE2D2"/><rect x="720.5" y="147.09" width="42" height="15.62" fill="#FFF3ED"/><rect x="762.5" y="147.09" width="42" height="15.62" fill="#FFEFE7"/><rect x="678.5" y="162.72" width="42" height="15.62" fill="#E7EDF6"/><rect x="720.5" y="162.72" width="42" height="15.62" fill="#DBE4F1"/><rect x="762.5" y="162.72" width="42" height="15.62" fill="#DBE4F1"/><rect x="678.5" y="178.34" width="42" height="15.62" fill="#FDFDFE"/><rect x="720.5" y="178.34" width="42" height="15.62" fill="#FDFDFE"/><rect x="762.5" y="178.34" width="42" height="15.62" fill="#FFFDFC"/><rect x="678.5" y="193.97" width="42" height="15.62" fill="#FAFBFD"/><rect x="720.5" y="193.97" width="42" height="15.62" fill="#EEF2F9"/><rect x="762.5" y="193.97" width="42" height="15.62" fill="#EEF2F9"/><rect x="678.5" y="209.59" width="42" height="15.62" fill="#FDFDFE"/><rect x="720.5" y="209.59" width="42" height="15.62" fill="#E7EDF6"/><rect x="762.5" y="209.59" width="42" height="15.62" fill="#EEF2F9"/><rect x="678.5" y="225.22" width="42" height="15.62" fill="#F5F8FB"/><rect x="720.5" y="225.22" width="42" height="15.62" fill="#E9EFF7"/><rect x="762.5" y="225.22" width="42" height="15.62" fill="#EEF2F9"/><rect x="678.5" y="240.84" width="42" height="15.62" fill="#F5F8FB"/><rect x="720.5" y="240.84" width="42" height="15.62" fill="#ECF1F8"/><rect x="762.5" y="240.84" width="42" height="15.62" fill="#F1F4F9"/><rect x="678.5" y="256.47" width="42" height="15.62" fill="#FFF3ED"/><rect x="720.5" y="256.47" width="42" height="15.62" fill="#EEF2F9"/><rect x="762.5" y="256.47" width="42" height="15.62" fill="#F8FAFC"/><rect x="678.5" y="272.09" width="42" height="15.62" fill="#FFFFFF"/><rect x="720.5" y="272.09" width="42" height="15.62" fill="#FAFBFD"/><rect x="762.5" y="272.09" width="42" height="15.62" fill="#FFF5F0"/><rect x="678.5" y="287.72" width="42" height="15.62" fill="#7F7F7F"/><rect x="720.5" y="287.72" width="42" height="15.62" fill="#7F7F7F"/><rect x="762.5" y="287.72" width="42" height="15.62" fill="#7F7F7F"/><rect x="678.5" y="303.34" width="42" height="15.62" fill="#F8FAFC"/><rect x="720.5" y="303.34" width="42" height="15.62" fill="#F8FAFC"/><rect x="762.5" y="303.34" width="42" height="15.62" fill="#F1F4F9"/><rect x="678.5" y="318.97" width="42" height="15.62" fill="#F8FAFC"/><rect x="720.5" y="318.97" width="42" height="15.62" fill="#E7EDF6"/><rect x="762.5" y="318.97" width="42" height="15.62" fill="#F5F8FB"/><rect x="678.5" y="334.59" width="42" height="15.62" fill="#F5F8FB"/><rect x="720.5" y="334.59" width="42" height="15.62" fill="#E7EDF6"/><rect x="762.5" y="334.59" width="42" height="15.62" fill="#EEF2F9"/><rect x="678.5" y="350.22" width="42" height="15.62" fill="#F8FAFC"/><rect x="720.5" y="350.22" width="42" height="15.62" fill="#E7EDF6"/><rect x="762.5" y="350.22" width="42" height="15.62" fill="#ECF1F8"/><rect x="678.5" y="365.84" width="42" height="15.62" fill="#F3F6FA"/><rect x="720.5" y="365.84" width="42" height="15.62" fill="#D4DFEE"/><rect x="762.5" y="365.84" width="42" height="15.62" fill="#E7EDF6"/><rect x="678.5" y="381.47" width="42" height="15.62" fill="#FFE6D8"/><rect x="720.5" y="381.47" width="42" height="15.62" fill="#7F7F7F"/><rect x="762.5" y="381.47" width="42" height="15.62" fill="#FFEFE7"/><rect x="678.5" y="397.09" width="42" height="15.62" fill="#FAFBFD"/><rect x="720.5" y="397.09" width="42" height="15.62" fill="#ECF1F8"/><rect x="762.5" y="397.09" width="42" height="15.62" fill="#F1F4F9"/><rect x="678.5" y="412.72" width="42" height="15.62" fill="#F5F8FB"/><rect x="720.5" y="412.72" width="42" height="15.62" fill="#EEF2F9"/><rect x="762.5" y="412.72" width="42" height="15.62" fill="#F1F4F9"/><rect x="678.5" y="428.34" width="42" height="15.62" fill="#FFFDFC"/><rect x="720.5" y="428.34" width="42" height="15.62" fill="#ECF1F8"/><rect x="762.5" y="428.34" width="42" height="15.62" fill="#F1F4F9"/><rect x="678.5" y="443.97" width="42" height="15.62" fill="#F8FAFC"/><rect x="720.5" y="443.97" width="42" height="15.62" fill="#EEF2F9"/><rect x="762.5" y="443.97" width="42" height="15.62" fill="#F3F6FA"/><rect x="678.5" y="459.59" width="42" height="15.62" fill="#FAFBFD"/><rect x="720.5" y="459.59" width="42" height="15.62" fill="#E9EFF7"/><rect x="762.5" y="459.59" width="42" height="15.62" fill="#E7EDF6"/><rect x="678.5" y="475.22" width="42" height="15.62" fill="#FFFDFC"/><rect x="720.5" y="475.22" width="42" height="15.62" fill="#F1F4F9"/><rect x="762.5" y="475.22" width="42" height="15.62" fill="#FFFFFF"/><rect x="678.5" y="490.84" width="42" height="15.62" fill="#AFC4E1"/><rect x="720.5" y="490.84" width="42" height="15.62" fill="#9EB8DA"/><rect x="762.5" y="490.84" width="42" height="15.62" fill="#A3BCDC"/><rect x="678.5" y="506.47" width="42" height="15.62" fill="#FFF7F3"/><rect x="720.5" y="506.47" width="42" height="15.62" fill="#FDFDFE"/><rect x="762.5" y="506.47" width="42" height="15.62" fill="#FFFFFF"/><rect x="678.5" y="522.09" width="42" height="15.62" fill="#FAFBFD"/><rect x="720.5" y="522.09" width="42" height="15.62" fill="#F1F4F9"/><rect x="762.5" y="522.09" width="42" height="15.62" fill="#F3F6FA"/><rect x="678.5" y="537.72" width="42" height="15.62" fill="#F8FAFC"/><rect x="720.5" y="537.72" width="42" height="15.62" fill="#F1F4F9"/><rect x="762.5" y="537.72" width="42" height="15.62" fill="#F8FAFC"/><rect x="678.5" y="553.34" width="42" height="15.62" fill="#FFEBE1"/><rect x="720.5" y="553.34" width="42" height="15.62" fill="#CFDBED"/><rect x="762.5" y="553.34" width="42" height="15.62" fill="#E7EDF6"/><rect x="678.5" y="568.97" width="42" height="15.62" fill="#E7EDF6"/><rect x="720.5" y="568.97" width="42" height="15.62" fill="#E0E8F3"/><rect x="762.5" y="568.97" width="42" height="15.62" fill="#ECF1F8"/><rect x="678.5" y="584.59" width="42" height="15.62" fill="#ECF1F8"/><rect x="720.5" y="584.59" width="42" height="15.62" fill="#E2E9F4"/><rect x="762.5" y="584.59" width="42" height="15.62" fill="#ECF1F8"/><rect x="678.5" y="600.22" width="42" height="15.62" fill="#FFE7DB"/><rect x="720.5" y="600.22" width="42" height="15.62" fill="#FFFDFC"/><rect x="762.5" y="600.22" width="42" height="15.62" fill="#FFFDFC"/><rect x="678.5" y="615.84" width="42" height="15.62" fill="#FFFFFF"/><rect x="720.5" y="615.84" width="42" height="15.62" fill="#F1F4F9"/><rect x="762.5" y="615.84" width="42" height="15.62" fill="#F8FAFC"/><rect x="678.5" y="631.47" width="42" height="15.62" fill="#F3F6FA"/><rect x="720.5" y="631.47" width="42" height="15.62" fill="#E7EDF6"/><rect x="762.5" y="631.47" width="42" height="15.62" fill="#E9EFF7"/><rect x="678.5" y="647.09" width="42" height="15.62" fill="#F5F8FB"/><rect x="720.5" y="647.09" width="42" height="15.62" fill="#E7EDF6"/><rect x="762.5" y="647.09" width="42" height="15.62" fill="#ECF1F8"/><rect x="678.5" y="662.72" width="42" height="15.62" fill="#FAFBFD"/><rect x="720.5" y="662.72" width="42" height="15.62" fill="#ECF1F8"/><rect x="762.5" y="662.72" width="42" height="15.62" fill="#EEF2F9"/><rect x="678.5" y="678.34" width="42" height="15.62" fill="#F8FAFC"/><rect x="720.5" y="678.34" width="42" height="15.62" fill="#E7EDF6"/><rect x="762.5" y="678.34" width="42" height="15.62" fill="#E7EDF6"/><rect x="678.5" y="693.97" width="42" height="15.62" fill="#FFFFFF"/><rect x="720.5" y="693.97" width="42" height="15.62" fill="#FDFDFE"/><rect x="762.5" y="693.97" width="42" height="15.62" fill="#FFFBF9"/><rect x="678.5" y="709.59" width="42" height="15.62" fill="#EEF2F9"/><rect x="720.5" y="709.59" width="42" height="15.62" fill="#E2E9F4"/><rect x="762.5" y="709.59" width="42" height="15.62" fill="#EEF2F9"/><rect x="678.5" y="725.22" width="42" height="15.62" fill="#FFF7F3"/><rect x="720.5" y="725.22" width="42" height="15.62" fill="#FAFBFD"/><rect x="762.5" y="725.22" width="42" height="15.62" fill="#F5F8FB"/><rect x="678.5" y="740.84" width="42" height="15.62" fill="#F3F6FA"/><rect x="720.5" y="740.84" width="42" height="15.62" fill="#E7EDF6"/><rect x="762.5" y="740.84" width="42" height="15.62" fill="#ECF1F8"/><rect x="678.5" y="756.47" width="42" height="15.62" fill="#FFFFFF"/><rect x="720.5" y="756.47" width="42" height="15.62" fill="#F1F4F9"/><rect x="762.5" y="756.47" width="42" height="15.62" fill="#FFFFFF"/><rect x="824.4" y="84.59" width="42" height="15.62" fill="#CAD8EB"/><rect x="866.4" y="84.59" width="42" height="15.62" fill="#D4DFEE"/><rect x="908.4" y="84.59" width="42" height="15.62" fill="#E7EDF6"/><rect x="824.4" y="100.22" width="42" height="15.62" fill="#FFF9F6"/><rect x="866.4" y="100.22" width="42" height="15.62" fill="#CFDBED"/><rect x="908.4" y="100.22" width="42" height="15.62" fill="#F3F6FA"/><rect x="824.4" y="115.84" width="42" height="15.62" fill="#E2E9F4"/><rect x="866.4" y="115.84" width="42" height="15.62" fill="#D4DFEE"/><rect x="908.4" y="115.84" width="42" height="15.62" fill="#FFFDFC"/><rect x="824.4" y="131.47" width="42" height="15.62" fill="#DBE4F1"/><rect x="866.4" y="131.47" width="42" height="15.62" fill="#FFF9F6"/><rect x="908.4" y="131.47" width="42" height="15.62" fill="#FFE2D2"/><rect x="824.4" y="147.09" width="42" height="15.62" fill="#C8D6EA"/><rect x="866.4" y="147.09" width="42" height="15.62" fill="#CAD8EB"/><rect x="908.4" y="147.09" width="42" height="15.62" fill="#ECF1F8"/><rect x="824.4" y="162.72" width="42" height="15.62" fill="#DBE4F1"/><rect x="866.4" y="162.72" width="42" height="15.62" fill="#FDFDFE"/><rect x="908.4" y="162.72" width="42" height="15.62" fill="#F8FAFC"/><rect x="824.4" y="178.34" width="42" height="15.62" fill="#CAD8EB"/><rect x="866.4" y="178.34" width="42" height="15.62" fill="#F1F4F9"/><rect x="908.4" y="178.34" width="42" height="15.62" fill="#FFDECC"/><rect x="824.4" y="193.97" width="42" height="15.62" fill="#F3F6FA"/><rect x="866.4" y="193.97" width="42" height="15.62" fill="#DBE4F1"/><rect x="908.4" y="193.97" width="42" height="15.62" fill="#FFE2D2"/><rect x="824.4" y="209.59" width="42" height="15.62" fill="#CFDBED"/><rect x="866.4" y="209.59" width="42" height="15.62" fill="#C0D1E7"/><rect x="908.4" y="209.59" width="42" height="15.62" fill="#E7EDF6"/><rect x="824.4" y="225.22" width="42" height="15.62" fill="#E7EDF6"/><rect x="866.4" y="225.22" width="42" height="15.62" fill="#FDFDFE"/><rect x="908.4" y="225.22" width="42" height="15.62" fill="#FFFFFF"/><rect x="824.4" y="240.84" width="42" height="15.62" fill="#DBE4F1"/><rect x="866.4" y="240.84" width="42" height="15.62" fill="#EEF2F9"/><rect x="908.4" y="240.84" width="42" height="15.62" fill="#E7EDF6"/><rect x="824.4" y="256.47" width="42" height="15.62" fill="#FFF5F0"/><rect x="866.4" y="256.47" width="42" height="15.62" fill="#FFF5F0"/><rect x="908.4" y="256.47" width="42" height="15.62" fill="#FCC5A6"/><rect x="824.4" y="272.09" width="42" height="15.62" fill="#DBE4F1"/><rect x="866.4" y="272.09" width="42" height="15.62" fill="#D4DFEE"/><rect x="908.4" y="272.09" width="42" height="15.62" fill="#E7EDF6"/><rect x="824.4" y="287.72" width="42" height="15.62" fill="#D4DFEE"/><rect x="866.4" y="287.72" width="42" height="15.62" fill="#CAD8EB"/><rect x="908.4" y="287.72" width="42" height="15.62" fill="#ECF1F8"/><rect x="824.4" y="303.34" width="42" height="15.62" fill="#DBE4F1"/><rect x="866.4" y="303.34" width="42" height="15.62" fill="#E7EDF6"/><rect x="908.4" y="303.34" width="42" height="15.62" fill="#FFFDFC"/><rect x="824.4" y="318.97" width="42" height="15.62" fill="#FAFBFD"/><rect x="866.4" y="318.97" width="42" height="15.62" fill="#E7EDF6"/><rect x="908.4" y="318.97" width="42" height="15.62" fill="#FFE2D2"/><rect x="824.4" y="334.59" width="42" height="15.62" fill="#ECF1F8"/><rect x="866.4" y="334.59" width="42" height="15.62" fill="#ECF1F8"/><rect x="908.4" y="334.59" width="42" height="15.62" fill="#FFE2D2"/><rect x="824.4" y="350.22" width="42" height="15.62" fill="#DBE4F1"/><rect x="866.4" y="350.22" width="42" height="15.62" fill="#E0E8F3"/><rect x="908.4" y="350.22" width="42" height="15.62" fill="#E2E9F4"/><rect x="824.4" y="365.84" width="42" height="15.62" fill="#FFEBE1"/><rect x="866.4" y="365.84" width="42" height="15.62" fill="#ECF1F8"/><rect x="908.4" y="365.84" width="42" height="15.62" fill="#FFE2D2"/><rect x="824.4" y="381.47" width="42" height="15.62" fill="#CAD8EB"/><rect x="866.4" y="381.47" width="42" height="15.62" fill="#CFDBED"/><rect x="908.4" y="381.47" width="42" height="15.62" fill="#E2E9F4"/><rect x="824.4" y="397.09" width="42" height="15.62" fill="#D9E2F0"/><rect x="866.4" y="397.09" width="42" height="15.62" fill="#D9E2F0"/><rect x="908.4" y="397.09" width="42" height="15.62" fill="#F3F6FA"/><rect x="824.4" y="412.72" width="42" height="15.62" fill="#DDE6F2"/><rect x="866.4" y="412.72" width="42" height="15.62" fill="#D9E2F0"/><rect x="908.4" y="412.72" width="42" height="15.62" fill="#F3F6FA"/><rect x="824.4" y="428.34" width="42" height="15.62" fill="#E7EDF6"/><rect x="866.4" y="428.34" width="42" height="15.62" fill="#FFF3ED"/><rect x="908.4" y="428.34" width="42" height="15.62" fill="#FED4BD"/><rect x="824.4" y="443.97" width="42" height="15.62" fill="#BCCDE5"/><rect x="866.4" y="443.97" width="42" height="15.62" fill="#C3D2E8"/><rect x="908.4" y="443.97" width="42" height="15.62" fill="#DBE4F1"/><rect x="824.4" y="459.59" width="42" height="15.62" fill="#C3D2E8"/><rect x="866.4" y="459.59" width="42" height="15.62" fill="#C3D2E8"/><rect x="908.4" y="459.59" width="42" height="15.62" fill="#E2E9F4"/><rect x="824.4" y="475.22" width="42" height="15.62" fill="#D9E2F0"/><rect x="866.4" y="475.22" width="42" height="15.62" fill="#E2E9F4"/><rect x="908.4" y="475.22" width="42" height="15.62" fill="#F1F4F9"/><rect x="824.4" y="490.84" width="42" height="15.62" fill="#D6E0EF"/><rect x="866.4" y="490.84" width="42" height="15.62" fill="#D6E0EF"/><rect x="908.4" y="490.84" width="42" height="15.62" fill="#EEF2F9"/><rect x="824.4" y="506.47" width="42" height="15.62" fill="#DDE6F2"/><rect x="866.4" y="506.47" width="42" height="15.62" fill="#CFDBED"/><rect x="908.4" y="506.47" width="42" height="15.62" fill="#EEF2F9"/><rect x="824.4" y="522.09" width="42" height="15.62" fill="#E2E9F4"/><rect x="866.4" y="522.09" width="42" height="15.62" fill="#D9E2F0"/><rect x="908.4" y="522.09" width="42" height="15.62" fill="#EEF2F9"/><rect x="824.4" y="537.72" width="42" height="15.62" fill="#CFDBED"/><rect x="866.4" y="537.72" width="42" height="15.62" fill="#DBE4F1"/><rect x="908.4" y="537.72" width="42" height="15.62" fill="#FFEFE7"/><rect x="824.4" y="553.34" width="42" height="15.62" fill="#FFFDFC"/><rect x="866.4" y="553.34" width="42" height="15.62" fill="#DBE4F1"/><rect x="908.4" y="553.34" width="42" height="15.62" fill="#F3F6FA"/><rect x="824.4" y="568.97" width="42" height="15.62" fill="#D4DFEE"/><rect x="866.4" y="568.97" width="42" height="15.62" fill="#E7EDF6"/><rect x="908.4" y="568.97" width="42" height="15.62" fill="#FFEFE7"/><rect x="824.4" y="584.59" width="42" height="15.62" fill="#E2E9F4"/><rect x="866.4" y="584.59" width="42" height="15.62" fill="#CFDBED"/><rect x="908.4" y="584.59" width="42" height="15.62" fill="#FFFFFF"/><rect x="824.4" y="600.22" width="42" height="15.62" fill="#E7EDF6"/><rect x="866.4" y="600.22" width="42" height="15.62" fill="#F8FAFC"/><rect x="908.4" y="600.22" width="42" height="15.62" fill="#FFF9F6"/><rect x="824.4" y="615.84" width="42" height="15.62" fill="#CFDBED"/><rect x="866.4" y="615.84" width="42" height="15.62" fill="#DBE4F1"/><rect x="908.4" y="615.84" width="42" height="15.62" fill="#E7EDF6"/><rect x="824.4" y="631.47" width="42" height="15.62" fill="#DBE4F1"/><rect x="866.4" y="631.47" width="42" height="15.62" fill="#CFDBED"/><rect x="908.4" y="631.47" width="42" height="15.62" fill="#ECF1F8"/><rect x="824.4" y="647.09" width="42" height="15.62" fill="#E9EFF7"/><rect x="866.4" y="647.09" width="42" height="15.62" fill="#CFDBED"/><rect x="908.4" y="647.09" width="42" height="15.62" fill="#ECF1F8"/><rect x="824.4" y="662.72" width="42" height="15.62" fill="#B2C6E2"/><rect x="866.4" y="662.72" width="42" height="15.62" fill="#FFF7F3"/><rect x="908.4" y="662.72" width="42" height="15.62" fill="#FFF9F6"/><rect x="824.4" y="678.34" width="42" height="15.62" fill="#E2E9F4"/><rect x="866.4" y="678.34" width="42" height="15.62" fill="#ECF1F8"/><rect x="908.4" y="678.34" width="42" height="15.62" fill="#F8FAFC"/><rect x="824.4" y="693.97" width="42" height="15.62" fill="#DBE4F1"/><rect x="866.4" y="693.97" width="42" height="15.62" fill="#CFDBED"/><rect x="908.4" y="693.97" width="42" height="15.62" fill="#ECF1F8"/><rect x="824.4" y="709.59" width="42" height="15.62" fill="#CFDBED"/><rect x="866.4" y="709.59" width="42" height="15.62" fill="#E2E9F4"/><rect x="908.4" y="709.59" width="42" height="15.62" fill="#E7EDF6"/><rect x="824.4" y="725.22" width="42" height="15.62" fill="#FAFBFD"/><rect x="866.4" y="725.22" width="42" height="15.62" fill="#FFEBE1"/><rect x="908.4" y="725.22" width="42" height="15.62" fill="#FFEBE1"/><rect x="824.4" y="740.84" width="42" height="15.62" fill="#E0E8F3"/><rect x="866.4" y="740.84" width="42" height="15.62" fill="#F1F4F9"/><rect x="908.4" y="740.84" width="42" height="15.62" fill="#FFF7F3"/><rect x="824.4" y="756.47" width="42" height="15.62" fill="#B2C6E2"/><rect x="866.4" y="756.47" width="42" height="15.62" fill="#3A7FBA"/><rect x="908.4" y="756.47" width="42" height="15.62" fill="#6594C6"/><rect x="970" y="84.59" width="42" height="15.62" fill="#E2E9F4"/><rect x="1012" y="84.59" width="42" height="15.62" fill="#ECF1F8"/><rect x="1054" y="84.59" width="42" height="15.62" fill="#FFF1EA"/><rect x="970" y="100.22" width="42" height="15.62" fill="#E9EFF7"/><rect x="1012" y="100.22" width="42" height="15.62" fill="#E9EFF7"/><rect x="1054" y="100.22" width="42" height="15.62" fill="#FFEFE7"/><rect x="970" y="115.84" width="42" height="15.62" fill="#ECF1F8"/><rect x="1012" y="115.84" width="42" height="15.62" fill="#F1F4F9"/><rect x="1054" y="115.84" width="42" height="15.62" fill="#FFE7DB"/><rect x="970" y="131.47" width="42" height="15.62" fill="#E7EDF6"/><rect x="1012" y="131.47" width="42" height="15.62" fill="#F3F6FA"/><rect x="1054" y="131.47" width="42" height="15.62" fill="#FFF1EA"/><rect x="970" y="147.09" width="42" height="15.62" fill="#E7EDF6"/><rect x="1012" y="147.09" width="42" height="15.62" fill="#EEF2F9"/><rect x="1054" y="147.09" width="42" height="15.62" fill="#FFEFE7"/><rect x="970" y="162.72" width="42" height="15.62" fill="#E7EDF6"/><rect x="1012" y="162.72" width="42" height="15.62" fill="#EEF2F9"/><rect x="1054" y="162.72" width="42" height="15.62" fill="#FFEFE7"/><rect x="970" y="178.34" width="42" height="15.62" fill="#E2E9F4"/><rect x="1012" y="178.34" width="42" height="15.62" fill="#DBE4F1"/><rect x="1054" y="178.34" width="42" height="15.62" fill="#FAFBFD"/><rect x="970" y="193.97" width="42" height="15.62" fill="#FAFBFD"/><rect x="1012" y="193.97" width="42" height="15.62" fill="#FCC8AC"/><rect x="1054" y="193.97" width="42" height="15.62" fill="#F6AC81"/><rect x="970" y="209.59" width="42" height="15.62" fill="#FFFDFC"/><rect x="1012" y="209.59" width="42" height="15.62" fill="#F1F4F9"/><rect x="1054" y="209.59" width="42" height="15.62" fill="#FFEFE7"/><rect x="970" y="225.22" width="42" height="15.62" fill="#E2E9F4"/><rect x="1012" y="225.22" width="42" height="15.62" fill="#F1F4F9"/><rect x="1054" y="225.22" width="42" height="15.62" fill="#FFF1EA"/><rect x="970" y="240.84" width="42" height="15.62" fill="#789FCC"/><rect x="1012" y="240.84" width="42" height="15.62" fill="#DBE4F1"/><rect x="1054" y="240.84" width="42" height="15.62" fill="#FDFDFE"/><rect x="970" y="256.47" width="42" height="15.62" fill="#FFEBE1"/><rect x="1012" y="256.47" width="42" height="15.62" fill="#FFE0CF"/><rect x="1054" y="256.47" width="42" height="15.62" fill="#FDCEB5"/><rect x="970" y="272.09" width="42" height="15.62" fill="#ECF1F8"/><rect x="1012" y="272.09" width="42" height="15.62" fill="#FFFBF9"/><rect x="1054" y="272.09" width="42" height="15.62" fill="#FFDCC9"/><rect x="970" y="287.72" width="42" height="15.62" fill="#E7EDF6"/><rect x="1012" y="287.72" width="42" height="15.62" fill="#FAFBFD"/><rect x="1054" y="287.72" width="42" height="15.62" fill="#FFF1EA"/><rect x="970" y="303.34" width="42" height="15.62" fill="#B7CAE3"/><rect x="1012" y="303.34" width="42" height="15.62" fill="#0072B2"/><rect x="1054" y="303.34" width="42" height="15.62" fill="#CAD8EB"/><rect x="970" y="318.97" width="42" height="15.62" fill="#FAFBFD"/><rect x="1012" y="318.97" width="42" height="15.62" fill="#FFE2D2"/><rect x="1054" y="318.97" width="42" height="15.62" fill="#D55E00"/><rect x="970" y="334.59" width="42" height="15.62" fill="#E2E9F4"/><rect x="1012" y="334.59" width="42" height="15.62" fill="#EEF2F9"/><rect x="1054" y="334.59" width="42" height="15.62" fill="#FFF3ED"/><rect x="970" y="350.22" width="42" height="15.62" fill="#FFFBF9"/><rect x="1012" y="350.22" width="42" height="15.62" fill="#F3F6FA"/><rect x="1054" y="350.22" width="42" height="15.62" fill="#FFEFE7"/><rect x="970" y="365.84" width="42" height="15.62" fill="#E7EDF6"/><rect x="1012" y="365.84" width="42" height="15.62" fill="#ECF1F8"/><rect x="1054" y="365.84" width="42" height="15.62" fill="#FFF1EA"/><rect x="970" y="381.47" width="42" height="15.62" fill="#E7EDF6"/><rect x="1012" y="381.47" width="42" height="15.62" fill="#F1F4F9"/><rect x="1054" y="381.47" width="42" height="15.62" fill="#FFF3ED"/><rect x="970" y="397.09" width="42" height="15.62" fill="#E7EDF6"/><rect x="1012" y="397.09" width="42" height="15.62" fill="#F5F8FB"/><rect x="1054" y="397.09" width="42" height="15.62" fill="#FFEDE4"/><rect x="970" y="412.72" width="42" height="15.62" fill="#FDFDFE"/><rect x="1012" y="412.72" width="42" height="15.62" fill="#F3F6FA"/><rect x="1054" y="412.72" width="42" height="15.62" fill="#FFF1EA"/><rect x="970" y="428.34" width="42" height="15.62" fill="#ABC1DF"/><rect x="1012" y="428.34" width="42" height="15.62" fill="#E7EDF6"/><rect x="1054" y="428.34" width="42" height="15.62" fill="#F8FAFC"/><rect x="970" y="443.97" width="42" height="15.62" fill="#F8FAFC"/><rect x="1012" y="443.97" width="42" height="15.62" fill="#FFFFFF"/><rect x="1054" y="443.97" width="42" height="15.62" fill="#F7B18A"/><rect x="970" y="459.59" width="42" height="15.62" fill="#E7EDF6"/><rect x="1012" y="459.59" width="42" height="15.62" fill="#ECF1F8"/><rect x="1054" y="459.59" width="42" height="15.62" fill="#FFF1EA"/><rect x="970" y="475.22" width="42" height="15.62" fill="#E2E9F4"/><rect x="1012" y="475.22" width="42" height="15.62" fill="#F8FAFC"/><rect x="1054" y="475.22" width="42" height="15.62" fill="#FFEFE7"/><rect x="970" y="490.84" width="42" height="15.62" fill="#E2E9F4"/><rect x="1012" y="490.84" width="42" height="15.62" fill="#F1F4F9"/><rect x="1054" y="490.84" width="42" height="15.62" fill="#FFF1EA"/><rect x="970" y="506.47" width="42" height="15.62" fill="#E7EDF6"/><rect x="1012" y="506.47" width="42" height="15.62" fill="#ECF1F8"/><rect x="1054" y="506.47" width="42" height="15.62" fill="#FFEFE7"/><rect x="970" y="522.09" width="42" height="15.62" fill="#FAFBFD"/><rect x="1012" y="522.09" width="42" height="15.62" fill="#ECF1F8"/><rect x="1054" y="522.09" width="42" height="15.62" fill="#FFF5F0"/><rect x="970" y="537.72" width="42" height="15.62" fill="#F1F4F9"/><rect x="1012" y="537.72" width="42" height="15.62" fill="#FFEBE1"/><rect x="1054" y="537.72" width="42" height="15.62" fill="#FED4BD"/><rect x="970" y="553.34" width="42" height="15.62" fill="#E7EDF6"/><rect x="1012" y="553.34" width="42" height="15.62" fill="#E9EFF7"/><rect x="1054" y="553.34" width="42" height="15.62" fill="#FFF3ED"/><rect x="970" y="568.97" width="42" height="15.62" fill="#E7EDF6"/><rect x="1012" y="568.97" width="42" height="15.62" fill="#EEF2F9"/><rect x="1054" y="568.97" width="42" height="15.62" fill="#FFF1EA"/><rect x="970" y="584.59" width="42" height="15.62" fill="#E7EDF6"/><rect x="1012" y="584.59" width="42" height="15.62" fill="#FAFBFD"/><rect x="1054" y="584.59" width="42" height="15.62" fill="#FFF3ED"/><rect x="970" y="600.22" width="42" height="15.62" fill="#F5F8FB"/><rect x="1012" y="600.22" width="42" height="15.62" fill="#FAFBFD"/><rect x="1054" y="600.22" width="42" height="15.62" fill="#FFD8C3"/><rect x="970" y="615.84" width="42" height="15.62" fill="#E7EDF6"/><rect x="1012" y="615.84" width="42" height="15.62" fill="#FAFBFD"/><rect x="1054" y="615.84" width="42" height="15.62" fill="#FFEBE1"/><rect x="970" y="631.47" width="42" height="15.62" fill="#E7EDF6"/><rect x="1012" y="631.47" width="42" height="15.62" fill="#ECF1F8"/><rect x="1054" y="631.47" width="42" height="15.62" fill="#FFF3ED"/><rect x="970" y="647.09" width="42" height="15.62" fill="#E7EDF6"/><rect x="1012" y="647.09" width="42" height="15.62" fill="#E9EFF7"/><rect x="1054" y="647.09" width="42" height="15.62" fill="#FFF7F3"/><rect x="970" y="662.72" width="42" height="15.62" fill="#ECF1F8"/><rect x="1012" y="662.72" width="42" height="15.62" fill="#FFFDFC"/><rect x="1054" y="662.72" width="42" height="15.62" fill="#FFD8C3"/><rect x="970" y="678.34" width="42" height="15.62" fill="#E9EFF7"/><rect x="1012" y="678.34" width="42" height="15.62" fill="#FFFDFC"/><rect x="1054" y="678.34" width="42" height="15.62" fill="#FFEBE1"/><rect x="970" y="693.97" width="42" height="15.62" fill="#EEF2F9"/><rect x="1012" y="693.97" width="42" height="15.62" fill="#F3F6FA"/><rect x="1054" y="693.97" width="42" height="15.62" fill="#FFEBE1"/><rect x="970" y="709.59" width="42" height="15.62" fill="#E2E9F4"/><rect x="1012" y="709.59" width="42" height="15.62" fill="#ECF1F8"/><rect x="1054" y="709.59" width="42" height="15.62" fill="#FFF7F3"/><rect x="970" y="725.22" width="42" height="15.62" fill="#F1F4F9"/><rect x="1012" y="725.22" width="42" height="15.62" fill="#FDFDFE"/><rect x="1054" y="725.22" width="42" height="15.62" fill="#FED4BD"/><rect x="970" y="740.84" width="42" height="15.62" fill="#E2E9F4"/><rect x="1012" y="740.84" width="42" height="15.62" fill="#ECF1F8"/><rect x="1054" y="740.84" width="42" height="15.62" fill="#FFF5F0"/><rect x="970" y="756.47" width="42" height="15.62" fill="#FFFFFF"/><rect x="1012" y="756.47" width="42" height="15.62" fill="#F8FAFC"/><rect x="1054" y="756.47" width="42" height="15.62" fill="#FFEBE1"/></g>
<line x1="528.1" y1="773.7" x2="663.4" y2="773.7" stroke="#000" stroke-width="2.6"/>
<line x1="674.2" y1="773.7" x2="808.8" y2="773.7" stroke="#000" stroke-width="2.6"/>
<line x1="820.2" y1="773.7" x2="954.8" y2="773.7" stroke="#000" stroke-width="2.6"/>
<line x1="965.8" y1="773.7" x2="1100.5" y2="773.7" stroke="#000" stroke-width="2.6"/>
<line x1="529.2" y1="83.2" x2="529.2" y2="775" stroke="#000" stroke-width="2.2"/>
<line x1="524.2" y1="92.4" x2="529.2" y2="92.4" stroke="#000" stroke-width="2"/>
<text x="470.6" y="99" font-size="21" text-anchor="start" fill="#4D4D4D">22+</text>
<line x1="524.2" y1="108.03" x2="529.2" y2="108.03" stroke="#000" stroke-width="2"/>
<text x="470.6" y="114.63" font-size="21" text-anchor="start" fill="#4D4D4D">22-</text>
<line x1="524.2" y1="123.65" x2="529.2" y2="123.65" stroke="#000" stroke-width="2"/>
<text x="470.6" y="130.25" font-size="21" text-anchor="start" fill="#4D4D4D">21+</text>
<line x1="524.2" y1="139.28" x2="529.2" y2="139.28" stroke="#000" stroke-width="2"/>
<text x="470.6" y="145.88" font-size="21" text-anchor="start" fill="#4D4D4D">21-</text>
<line x1="524.2" y1="154.9" x2="529.2" y2="154.9" stroke="#000" stroke-width="2"/>
<text x="470.6" y="161.5" font-size="21" text-anchor="start" fill="#4D4D4D">20+</text>
<line x1="524.2" y1="170.53" x2="529.2" y2="170.53" stroke="#000" stroke-width="2"/>
<text x="470.6" y="177.13" font-size="21" text-anchor="start" fill="#4D4D4D">20-</text>
<line x1="524.2" y1="186.15" x2="529.2" y2="186.15" stroke="#000" stroke-width="2"/>
<text x="470.6" y="192.75" font-size="21" text-anchor="start" fill="#4D4D4D">19+</text>
<line x1="524.2" y1="201.78" x2="529.2" y2="201.78" stroke="#000" stroke-width="2"/>
<text x="470.6" y="208.38" font-size="21" text-anchor="start" fill="#4D4D4D">19-</text>
<line x1="524.2" y1="217.4" x2="529.2" y2="217.4" stroke="#000" stroke-width="2"/>
<text x="470.6" y="224" font-size="21" text-anchor="start" fill="#4D4D4D">18+</text>
<line x1="524.2" y1="233.03" x2="529.2" y2="233.03" stroke="#000" stroke-width="2"/>
<text x="470.6" y="239.63" font-size="21" text-anchor="start" fill="#4D4D4D">18-</text>
<line x1="524.2" y1="248.65" x2="529.2" y2="248.65" stroke="#000" stroke-width="2"/>
<text x="470.6" y="255.25" font-size="21" text-anchor="start" fill="#4D4D4D">17+</text>
<line x1="524.2" y1="264.28" x2="529.2" y2="264.28" stroke="#000" stroke-width="2"/>
<text x="470.6" y="270.88" font-size="21" text-anchor="start" fill="#4D4D4D">17-</text>
<line x1="524.2" y1="279.9" x2="529.2" y2="279.9" stroke="#000" stroke-width="2"/>
<text x="470.6" y="286.5" font-size="21" text-anchor="start" fill="#4D4D4D">16+</text>
<line x1="524.2" y1="295.53" x2="529.2" y2="295.53" stroke="#000" stroke-width="2"/>
<text x="470.6" y="302.13" font-size="21" text-anchor="start" fill="#4D4D4D">16-</text>
<line x1="524.2" y1="311.15" x2="529.2" y2="311.15" stroke="#000" stroke-width="2"/>
<text x="470.6" y="317.75" font-size="21" text-anchor="start" fill="#4D4D4D">15+</text>
<line x1="524.2" y1="326.78" x2="529.2" y2="326.78" stroke="#000" stroke-width="2"/>
<text x="470.6" y="333.38" font-size="21" text-anchor="start" fill="#4D4D4D">15-</text>
<line x1="524.2" y1="342.4" x2="529.2" y2="342.4" stroke="#000" stroke-width="2"/>
<text x="470.6" y="349" font-size="21" text-anchor="start" fill="#4D4D4D">14+</text>
<line x1="524.2" y1="358.03" x2="529.2" y2="358.03" stroke="#000" stroke-width="2"/>
<text x="470.6" y="364.63" font-size="21" text-anchor="start" fill="#4D4D4D">14-</text>
<line x1="524.2" y1="373.65" x2="529.2" y2="373.65" stroke="#000" stroke-width="2"/>
<text x="470.6" y="380.25" font-size="21" text-anchor="start" fill="#4D4D4D">13+</text>
<line x1="524.2" y1="389.28" x2="529.2" y2="389.28" stroke="#000" stroke-width="2"/>
<text x="470.6" y="395.88" font-size="21" text-anchor="start" fill="#4D4D4D">13-</text>
<line x1="524.2" y1="404.9" x2="529.2" y2="404.9" stroke="#000" stroke-width="2"/>
<text x="470.6" y="411.5" font-size="21" text-anchor="start" fill="#4D4D4D">12+</text>
<line x1="524.2" y1="420.53" x2="529.2" y2="420.53" stroke="#000" stroke-width="2"/>
<text x="470.6" y="427.13" font-size="21" text-anchor="start" fill="#4D4D4D">12-</text>
<line x1="524.2" y1="436.15" x2="529.2" y2="436.15" stroke="#000" stroke-width="2"/>
<text x="470.6" y="442.75" font-size="21" text-anchor="start" fill="#4D4D4D">11+</text>
<line x1="524.2" y1="451.78" x2="529.2" y2="451.78" stroke="#000" stroke-width="2"/>
<text x="470.6" y="458.38" font-size="21" text-anchor="start" fill="#4D4D4D">11-</text>
<line x1="524.2" y1="467.4" x2="529.2" y2="467.4" stroke="#000" stroke-width="2"/>
<text x="470.6" y="474" font-size="21" text-anchor="start" fill="#4D4D4D">10+</text>
<line x1="524.2" y1="483.03" x2="529.2" y2="483.03" stroke="#000" stroke-width="2"/>
<text x="470.6" y="489.63" font-size="21" text-anchor="start" fill="#4D4D4D">10-</text>
<line x1="524.2" y1="498.65" x2="529.2" y2="498.65" stroke="#000" stroke-width="2"/>
<text x="470.6" y="505.25" font-size="21" text-anchor="start" fill="#4D4D4D">9+</text>
<line x1="524.2" y1="514.28" x2="529.2" y2="514.28" stroke="#000" stroke-width="2"/>
<text x="470.6" y="520.88" font-size="21" text-anchor="start" fill="#4D4D4D">9-</text>
<line x1="524.2" y1="529.9" x2="529.2" y2="529.9" stroke="#000" stroke-width="2"/>
<text x="470.6" y="536.5" font-size="21" text-anchor="start" fill="#4D4D4D">8+</text>
<line x1="524.2" y1="545.53" x2="529.2" y2="545.53" stroke="#000" stroke-width="2"/>
<text x="470.6" y="552.13" font-size="21" text-anchor="start" fill="#4D4D4D">8-</text>
<line x1="524.2" y1="561.15" x2="529.2" y2="561.15" stroke="#000" stroke-width="2"/>
<text x="470.6" y="567.75" font-size="21" text-anchor="start" fill="#4D4D4D">7+</text>
<line x1="524.2" y1="576.78" x2="529.2" y2="576.78" stroke="#000" stroke-width="2"/>
<text x="470.6" y="583.38" font-size="21" text-anchor="start" fill="#4D4D4D">7-</text>
<line x1="524.2" y1="592.4" x2="529.2" y2="592.4" stroke="#000" stroke-width="2"/>
<text x="470.6" y="599" font-size="21" text-anchor="start" fill="#4D4D4D">6+</text>
<line x1="524.2" y1="608.03" x2="529.2" y2="608.03" stroke="#000" stroke-width="2"/>
<text x="470.6" y="614.63" font-size="21" text-anchor="start" fill="#4D4D4D">6-</text>
<line x1="524.2" y1="623.65" x2="529.2" y2="623.65" stroke="#000" stroke-width="2"/>
<text x="470.6" y="630.25" font-size="21" text-anchor="start" fill="#4D4D4D">5+</text>
<line x1="524.2" y1="639.28" x2="529.2" y2="639.28" stroke="#000" stroke-width="2"/>
<text x="470.6" y="645.88" font-size="21" text-anchor="start" fill="#4D4D4D">5-</text>
<line x1="524.2" y1="654.9" x2="529.2" y2="654.9" stroke="#000" stroke-width="2"/>
<text x="470.6" y="661.5" font-size="21" text-anchor="start" fill="#4D4D4D">4+</text>
<line x1="524.2" y1="670.53" x2="529.2" y2="670.53" stroke="#000" stroke-width="2"/>
<text x="470.6" y="677.13" font-size="21" text-anchor="start" fill="#4D4D4D">4-</text>
<line x1="524.2" y1="686.15" x2="529.2" y2="686.15" stroke="#000" stroke-width="2"/>
<text x="470.6" y="692.75" font-size="21" text-anchor="start" fill="#4D4D4D">3+</text>
<line x1="524.2" y1="701.78" x2="529.2" y2="701.78" stroke="#000" stroke-width="2"/>
<text x="470.6" y="708.38" font-size="21" text-anchor="start" fill="#4D4D4D">3-</text>
<line x1="524.2" y1="717.4" x2="529.2" y2="717.4" stroke="#000" stroke-width="2"/>
<text x="470.6" y="724" font-size="21" text-anchor="start" fill="#4D4D4D">2+</text>
<line x1="524.2" y1="733.03" x2="529.2" y2="733.03" stroke="#000" stroke-width="2"/>
<text x="470.6" y="739.63" font-size="21" text-anchor="start" fill="#4D4D4D">2-</text>
<line x1="524.2" y1="748.65" x2="529.2" y2="748.65" stroke="#000" stroke-width="2"/>
<text x="470.6" y="755.25" font-size="21" text-anchor="start" fill="#4D4D4D">1+</text>
<line x1="524.2" y1="764.28" x2="529.2" y2="764.28" stroke="#000" stroke-width="2"/>
<text x="470.6" y="770.88" font-size="21" text-anchor="start" fill="#4D4D4D">1-</text>
<text x="726.6" y="797.8" font-size="20.5" fill="#000" textLength="174.8" lengthAdjust="spacing">frequent karyotypes</text>
<text x="468.7" y="32.9" font-size="28" fill="#000" font-weight="bold" textLength="18.6" lengthAdjust="spacing">b</text>
<rect x="529.4" y="11.3" width="278.1" height="32.8" fill="none" stroke="#000" stroke-width="2.6"/>
<text x="639" y="33.75" font-size="20.5" fill="#000" textLength="58.8" lengthAdjust="spacing">SA535</text>
<rect x="529.4" y="44.1" width="133" height="33.3" fill="none" stroke="#000" stroke-width="2.6"/>
<text x="534.2" y="67.6" font-size="20.5" fill="#000" textLength="119.2" lengthAdjust="spacing">Landscape 1</text>
<rect x="675.4" y="44.1" width="132.1" height="33.3" fill="none" stroke="#000" stroke-width="2.6"/>
<text x="679.9" y="67.75" font-size="20.5" fill="#000" textLength="122.7" lengthAdjust="spacing">Landscape 2</text>
<line x1="528.4" y1="44.1" x2="808.5" y2="44.1" stroke="#000" stroke-width="3.5" stroke-linecap="round"/>
<rect x="821.5" y="11.3" width="277.7" height="32.8" fill="none" stroke="#000" stroke-width="2.6"/>
<text x="930.25" y="33.6" font-size="20.5" fill="#000" textLength="59.3" lengthAdjust="spacing">SA609</text>
<rect x="821.5" y="44.1" width="132.1" height="33.3" fill="none" stroke="#000" stroke-width="2.6"/>
<text x="825.5" y="67.9" font-size="20.5" fill="#000" textLength="120.4" lengthAdjust="spacing">Landscape 1</text>
<rect x="966.7" y="44.1" width="132.5" height="33.3" fill="none" stroke="#000" stroke-width="2.6"/>
<text x="970.75" y="67.9" font-size="20.5" fill="#000" textLength="122.9" lengthAdjust="spacing">Landscape 2</text>
<line x1="820.5" y1="44.1" x2="1100.2" y2="44.1" stroke="#000" stroke-width="3.5" stroke-linecap="round"/>
<defs><linearGradient id="cb" x1="0" y1="0" x2="0" y2="1"><stop offset="0" stop-color="#2979B6"/><stop offset="0.03" stop-color="#3B7FBA"/><stop offset="0.05" stop-color="#4A86BE"/><stop offset="0.07" stop-color="#578CC2"/><stop offset="0.1" stop-color="#6393C5"/><stop offset="0.12" stop-color="#6E99C9"/><stop offset="0.15" stop-color="#79A0CD"/><stop offset="0.17" stop-color="#84A7D1"/><stop offset="0.2" stop-color="#8EAED4"/><stop offset="0.23" stop-color="#99B5D8"/><stop offset="0.25" stop-color="#A3BBDC"/><stop offset="0.28" stop-color="#ADC2E0"/><stop offset="0.3" stop-color="#B6C9E3"/><stop offset="0.33" stop-color="#C0D0E7"/><stop offset="0.35" stop-color="#CAD8EB"/><stop offset="0.38" stop-color="#D4DFEE"/><stop offset="0.4" stop-color="#DEE6F2"/><stop offset="0.42" stop-color="#E7EDF6"/><stop offset="0.45" stop-color="#F1F4FA"/><stop offset="0.47" stop-color="#FBFCFD"/><stop offset="0.5" stop-color="#FFFAF8"/><stop offset="0.53" stop-color="#FFF3EC"/><stop offset="0.55" stop-color="#FFEBE0"/><stop offset="0.57" stop-color="#FFE3D4"/><stop offset="0.6" stop-color="#FFDBC8"/><stop offset="0.62" stop-color="#FED3BC"/><stop offset="0.65" stop-color="#FDCBB0"/><stop offset="0.68" stop-color="#FBC3A4"/><stop offset="0.7" stop-color="#FABC99"/><stop offset="0.72" stop-color="#F8B48D"/><stop offset="0.75" stop-color="#F6AC82"/><stop offset="0.78" stop-color="#F3A476"/><stop offset="0.8" stop-color="#F19D6B"/><stop offset="0.82" stop-color="#EE9560"/><stop offset="0.85" stop-color="#EB8D54"/><stop offset="0.88" stop-color="#E88549"/><stop offset="0.9" stop-color="#E47E3D"/><stop offset="0.93" stop-color="#E17632"/><stop offset="0.95" stop-color="#DD6E25"/><stop offset="0.97" stop-color="#D96616"/><stop offset="1" stop-color="#D55E00"/></linearGradient></defs>
<rect x="1128.9" y="359" width="34.7" height="168" fill="url(#cb)"/>
<line x1="1128.9" y1="395.4" x2="1142.8" y2="395.4" stroke="#fff" stroke-width="1.6"/>
<line x1="1149.5" y1="395.4" x2="1163.6" y2="395.4" stroke="#fff" stroke-width="1.6"/>
<line x1="1128.9" y1="485.8" x2="1142.8" y2="485.8" stroke="#fff" stroke-width="1.6"/>
<line x1="1149.5" y1="485.8" x2="1163.6" y2="485.8" stroke="#fff" stroke-width="1.6"/>
<text x="1129.25" y="344.75" font-size="20.5" fill="#000" textLength="24.6" lengthAdjust="spacing">Δ f</text>
<text x="1171.8" y="401.8" font-size="19" fill="#000" textLength="27.6" lengthAdjust="spacing">0.2</text>
<text x="1171.8" y="446.9" font-size="19" fill="#000" textLength="27.6" lengthAdjust="spacing">0.0</text>
<text x="1171.8" y="492.3" font-size="19" fill="#000" textLength="35" lengthAdjust="spacing">-0.2</text>
<text x="469" y="846" font-size="28" fill="#000" font-weight="bold" textLength="16.8" lengthAdjust="spacing">c</text>
<line x1="551.2" y1="852.6" x2="578.2" y2="852.6" stroke="#F8766D" stroke-width="4.4"/>
<line x1="650" y1="852.6" x2="677" y2="852.6" stroke="#00BA38" stroke-width="4.4"/>
<line x1="748.5" y1="852.6" x2="775.5" y2="852.6" stroke="#619CFF" stroke-width="4.4"/>
<text x="590.5" y="848.5" font-size="20" fill="#000" textLength="21.4" lengthAdjust="spacing">I.V</text>
<text x="590.7" y="869.5" font-size="20" fill="#000" textLength="46.6" lengthAdjust="spacing">(unt.)</text>
<text x="688.75" y="848.5" font-size="20" fill="#000" textLength="37.5" lengthAdjust="spacing">PDX</text>
<text x="689.75" y="869.5" font-size="20" fill="#000" textLength="45.9" lengthAdjust="spacing">(unt.)</text>
<text x="787.75" y="848.5" font-size="20" fill="#000" textLength="37.9" lengthAdjust="spacing">PDX</text>
<text x="788" y="869.5" font-size="20" fill="#000" textLength="59" lengthAdjust="spacing">(cisp.)</text>
<polyline points="543.35,1146.28 670.67,1146.28 675.14,1145.17 678.49,1141.82 681.17,1137.35 682.95,1131.77 684.74,1125.06 686.3,1113.9 687.42,1096.03 688.54,1073.69 689.43,1040.19 690.1,1006.68 690.77,968.71 691.44,939.67 692.33,924.04 693.67,919.12 697.47,917.34 701.27,915.1 705.29,913.99 709.76,912.87 718.69,912.65 835.96,912.65" fill="none" stroke="#F8766D" stroke-width="4" stroke-linejoin="round"/>
<polyline points="543.35,1146.28 607.01,1146.28 624.88,1145.17 640.51,1143.38 656.15,1140.7 670.67,1136.23 674.02,1131.77 677.37,1125.06 680.72,1116.13 683.4,1106.08 685.63,1093.79 688.54,1073.69 691.89,1040.19 694.12,1020.08 696.35,1002.21 699.04,982.11 701.27,966.48 704.17,950.84 707.08,938.56 709.76,930.29 712.44,926.27 716.46,922.92 723.16,920.69 728.74,918.45 733.21,916.22 741.03,915.1 752.2,913.99 774.53,912.87 835.96,912.65" fill="none" stroke="#00BA38" stroke-width="4" stroke-linejoin="round"/>
<polyline points="543.35,1146.28 562.34,1145.84 584.67,1145.17 611.48,1143.38 624.88,1141.82 636.05,1139.58 642.75,1136.9 649.45,1133.55 657.27,1128.42 661.73,1124.62 666.2,1119.48 670.67,1113.9 674.02,1108.31 677.37,1102.28 680.72,1096.03 684.07,1088.88 686.3,1082.63 689.21,1071.46 691.89,1060.29 694.12,1052.47 696.35,1044.65 699.71,1032.37 703.06,1020.08 706.41,1008.47 709.76,997.75 714.22,985.46 718.69,973.18 723.16,963.13 727.63,953.07 732.09,945.26 736.56,938.56 741.03,933.42 745.49,929.62 754.43,924.71 763.36,920.69 772.3,918.23 781.23,916.22 794.63,915.1 808.04,914.21 835.96,913.32" fill="none" stroke="#619CFF" stroke-width="4" stroke-linejoin="round"/>
<line x1="542.9" y1="902.4" x2="542.9" y2="1158.6" stroke="#000" stroke-width="2.2"/>
<line x1="541.8" y1="1157.5" x2="836.2" y2="1157.5" stroke="#000" stroke-width="2.2"/>
<line x1="538.3" y1="913.3" x2="542.9" y2="913.3" stroke="#000" stroke-width="2"/>
<text x="533.6" y="920.3" font-size="20.5" text-anchor="end" fill="#4D4D4D">1.00</text>
<line x1="538.3" y1="971.55" x2="542.9" y2="971.55" stroke="#000" stroke-width="2"/>
<text x="533.6" y="978.55" font-size="20.5" text-anchor="end" fill="#4D4D4D">0.75</text>
<line x1="538.3" y1="1029.8" x2="542.9" y2="1029.8" stroke="#000" stroke-width="2"/>
<text x="533.6" y="1036.8" font-size="20.5" text-anchor="end" fill="#4D4D4D">0.50</text>
<line x1="538.3" y1="1088.05" x2="542.9" y2="1088.05" stroke="#000" stroke-width="2"/>
<text x="533.6" y="1095.05" font-size="20.5" text-anchor="end" fill="#4D4D4D">0.25</text>
<line x1="538.3" y1="1146.3" x2="542.9" y2="1146.3" stroke="#000" stroke-width="2"/>
<text x="533.6" y="1153.3" font-size="20.5" text-anchor="end" fill="#4D4D4D">0.00</text>
<line x1="555.78" y1="1157.5" x2="555.78" y2="1162.2" stroke="#000" stroke-width="2"/>
<text x="555.78" y="1180.9" font-size="20.5" text-anchor="middle" fill="#4D4D4D">-0.3</text>
<line x1="600.42" y1="1157.5" x2="600.42" y2="1162.2" stroke="#000" stroke-width="2"/>
<text x="600.42" y="1180.9" font-size="20.5" text-anchor="middle" fill="#4D4D4D">-0.2</text>
<line x1="645.06" y1="1157.5" x2="645.06" y2="1162.2" stroke="#000" stroke-width="2"/>
<text x="645.06" y="1180.9" font-size="20.5" text-anchor="middle" fill="#4D4D4D">-0.1</text>
<line x1="689.7" y1="1157.5" x2="689.7" y2="1162.2" stroke="#000" stroke-width="2"/>
<text x="689.7" y="1180.9" font-size="20.5" text-anchor="middle" fill="#4D4D4D">0.0</text>
<line x1="734.34" y1="1157.5" x2="734.34" y2="1162.2" stroke="#000" stroke-width="2"/>
<text x="734.34" y="1180.9" font-size="20.5" text-anchor="middle" fill="#4D4D4D">0.1</text>
<line x1="778.98" y1="1157.5" x2="778.98" y2="1162.2" stroke="#000" stroke-width="2"/>
<text x="778.98" y="1180.9" font-size="20.5" text-anchor="middle" fill="#4D4D4D">0.2</text>
<line x1="823.62" y1="1157.5" x2="823.62" y2="1162.2" stroke="#000" stroke-width="2"/>
<text x="823.62" y="1180.9" font-size="20.5" text-anchor="middle" fill="#4D4D4D">0.3</text>
<text x="631.4" y="1204.2" font-size="20.5" fill="#000" textLength="118.6" lengthAdjust="spacing">fitness effect</text>
<text x="486" y="1074.7" font-size="20.5" fill="#000" textLength="88.2" lengthAdjust="spacing" transform="rotate(-90 486 1074.7)">frequency</text>
<text x="853.55" y="845.7" font-size="28" fill="#000" font-weight="bold" textLength="17.9" lengthAdjust="spacing">d</text>
<rect x="918" y="825" width="145.3" height="51.8" fill="none" stroke="#000" stroke-width="2.2"/>
<rect x="1074.8" y="825" width="144.6" height="51.8" fill="none" stroke="#000" stroke-width="2.2"/>
<text x="938.6" y="846.6" font-size="20.5" fill="#000" textLength="104.8" lengthAdjust="spacing">cisplatin v.s.</text>
<text x="946.6" y="868.2" font-size="20.5" fill="#000" textLength="86.6" lengthAdjust="spacing">untreated</text>
<text x="1113.6" y="846.6" font-size="20.5" fill="#000" textLength="65.2" lengthAdjust="spacing">PDX v.s.</text>
<text x="1115.4" y="868.2" font-size="20.5" fill="#000" textLength="62.6" lengthAdjust="spacing">in-vitro</text>
<line x1="917.9" y1="877.7" x2="917.9" y2="1184.1" stroke="#000" stroke-width="2.2"/>
<line x1="916.8" y1="1183" x2="1064.4" y2="1183" stroke="#000" stroke-width="2.2"/>
<line x1="1073.7" y1="1183" x2="1220.5" y2="1183" stroke="#000" stroke-width="2.2"/>
<line x1="913.3" y1="921.1" x2="917.9" y2="921.1" stroke="#000" stroke-width="2"/>
<text x="908" y="928.1" font-size="20.5" text-anchor="end" fill="#4D4D4D">2.0</text>
<line x1="913.3" y1="989.65" x2="917.9" y2="989.65" stroke="#000" stroke-width="2"/>
<text x="908" y="996.65" font-size="20.5" text-anchor="end" fill="#4D4D4D">1.5</text>
<line x1="913.3" y1="1058.2" x2="917.9" y2="1058.2" stroke="#000" stroke-width="2"/>
<text x="908" y="1065.2" font-size="20.5" text-anchor="end" fill="#4D4D4D">1.0</text>
<line x1="913.3" y1="1126.75" x2="917.9" y2="1126.75" stroke="#000" stroke-width="2"/>
<text x="908" y="1133.75" font-size="20.5" text-anchor="end" fill="#4D4D4D">0.5</text>
<line x1="957.2" y1="1183" x2="957.2" y2="1187.6" stroke="#000" stroke-width="2"/>
<text x="945.6" y="1205" font-size="20.5" fill="#4D4D4D" textLength="24.6" lengthAdjust="spacing">Δ f</text>
<line x1="1023.8" y1="1183" x2="1023.8" y2="1187.6" stroke="#000" stroke-width="2"/>
<text x="985.2" y="1205" font-size="20.5" fill="#4D4D4D" textLength="76.8" lengthAdjust="spacing">variance</text>
<line x1="1113.9" y1="1183" x2="1113.9" y2="1187.6" stroke="#000" stroke-width="2"/>
<text x="1102.4" y="1205" font-size="20.5" fill="#4D4D4D" textLength="24.4" lengthAdjust="spacing">Δ f</text>
<line x1="1180.9" y1="1183" x2="1180.9" y2="1187.6" stroke="#000" stroke-width="2"/>
<text x="1142" y="1205" font-size="20.5" fill="#4D4D4D" textLength="77.8" lengthAdjust="spacing">variance</text>
<line x1="957.2" y1="1138.4" x2="957.2" y2="1016.3" stroke="#000" stroke-width="4.2"/>
<line x1="950.4" y1="1138.4" x2="964" y2="1138.4" stroke="#000" stroke-width="4.2"/>
<line x1="950.4" y1="1016.3" x2="964" y2="1016.3" stroke="#000" stroke-width="4.2"/>
<circle cx="957.2" cy="1069" r="9.2" fill="#000"/>
<line x1="1023.8" y1="1168.7" x2="1023.8" y2="1046" stroke="#000" stroke-width="4.2"/>
<line x1="1017" y1="1168.7" x2="1030.6" y2="1168.7" stroke="#000" stroke-width="4.2"/>
<line x1="1017" y1="1046" x2="1030.6" y2="1046" stroke="#000" stroke-width="4.2"/>
<circle cx="1023.8" cy="1104.4" r="9.2" fill="#000"/>
<line x1="1113.9" y1="1081.3" x2="1113.9" y2="975.7" stroke="#000" stroke-width="4.2"/>
<line x1="1107.1" y1="1081.3" x2="1120.7" y2="1081.3" stroke="#000" stroke-width="4.2"/>
<line x1="1107.1" y1="975.7" x2="1120.7" y2="975.7" stroke="#000" stroke-width="4.2"/>
<circle cx="1113.9" cy="1026.8" r="9.2" fill="#000"/>
<line x1="1180.9" y1="1020.6" x2="1180.9" y2="891.8" stroke="#000" stroke-width="4.2"/>
<line x1="1174.1" y1="1020.6" x2="1187.7" y2="1020.6" stroke="#000" stroke-width="4.2"/>
<line x1="1174.1" y1="891.8" x2="1187.7" y2="891.8" stroke="#000" stroke-width="4.2"/>
<circle cx="1180.9" cy="960.2" r="9.2" fill="#000"/>
<text x="869.5" y="1163" font-size="20.5" fill="#000" textLength="262.8" lengthAdjust="spacing" transform="rotate(-90 869.5 1163)">Estimate (median and 95% CI)</text>
<text x="1238" y="32.8" font-size="28" fill="#000" font-weight="bold" textLength="17.6" lengthAdjust="spacing">e</text>
<line x1="1312.4" y1="572.3" x2="1386.6" y2="572.3" stroke="#EAEAEA" stroke-width="1.8"/>
<line x1="1312.4" y1="510.62" x2="1386.6" y2="510.62" stroke="#EAEAEA" stroke-width="1.5"/>
<line x1="1312.4" y1="448.95" x2="1386.6" y2="448.95" stroke="#EAEAEA" stroke-width="1.8"/>
<line x1="1312.4" y1="387.27" x2="1386.6" y2="387.27" stroke="#EAEAEA" stroke-width="1.5"/>
<line x1="1312.4" y1="325.6" x2="1386.6" y2="325.6" stroke="#EAEAEA" stroke-width="1.8"/>
<line x1="1312.4" y1="263.92" x2="1386.6" y2="263.92" stroke="#EAEAEA" stroke-width="1.5"/>
<line x1="1312.4" y1="202.25" x2="1386.6" y2="202.25" stroke="#EAEAEA" stroke-width="1.8"/>
<line x1="1312.4" y1="140.57" x2="1386.6" y2="140.57" stroke="#EAEAEA" stroke-width="1.5"/>
<line x1="1349.6" y1="83" x2="1349.6" y2="595.5" stroke="#EAEAEA" stroke-width="1.9"/>
<line x1="1396.3" y1="572.3" x2="1470.6" y2="572.3" stroke="#EAEAEA" stroke-width="1.8"/>
<line x1="1396.3" y1="510.62" x2="1470.6" y2="510.62" stroke="#EAEAEA" stroke-width="1.5"/>
<line x1="1396.3" y1="448.95" x2="1470.6" y2="448.95" stroke="#EAEAEA" stroke-width="1.8"/>
<line x1="1396.3" y1="387.27" x2="1470.6" y2="387.27" stroke="#EAEAEA" stroke-width="1.5"/>
<line x1="1396.3" y1="325.6" x2="1470.6" y2="325.6" stroke="#EAEAEA" stroke-width="1.8"/>
<line x1="1396.3" y1="263.92" x2="1470.6" y2="263.92" stroke="#EAEAEA" stroke-width="1.5"/>
<line x1="1396.3" y1="202.25" x2="1470.6" y2="202.25" stroke="#EAEAEA" stroke-width="1.8"/>
<line x1="1396.3" y1="140.57" x2="1470.6" y2="140.57" stroke="#EAEAEA" stroke-width="1.5"/>
<line x1="1433" y1="83" x2="1433" y2="595.5" stroke="#EAEAEA" stroke-width="1.9"/>
<line x1="1479.4" y1="572.3" x2="1615.6" y2="572.3" stroke="#EAEAEA" stroke-width="1.8"/>
<line x1="1479.4" y1="510.62" x2="1615.6" y2="510.62" stroke="#EAEAEA" stroke-width="1.5"/>
<line x1="1479.4" y1="448.95" x2="1615.6" y2="448.95" stroke="#EAEAEA" stroke-width="1.8"/>
<line x1="1479.4" y1="387.27" x2="1615.6" y2="387.27" stroke="#EAEAEA" stroke-width="1.5"/>
<line x1="1479.4" y1="325.6" x2="1615.6" y2="325.6" stroke="#EAEAEA" stroke-width="1.8"/>
<line x1="1479.4" y1="263.92" x2="1615.6" y2="263.92" stroke="#EAEAEA" stroke-width="1.5"/>
<line x1="1479.4" y1="202.25" x2="1615.6" y2="202.25" stroke="#EAEAEA" stroke-width="1.8"/>
<line x1="1479.4" y1="140.57" x2="1615.6" y2="140.57" stroke="#EAEAEA" stroke-width="1.5"/>
<line x1="1517.1" y1="83" x2="1517.1" y2="595.5" stroke="#EAEAEA" stroke-width="1.9"/>
<line x1="1578.6" y1="83" x2="1578.6" y2="595.5" stroke="#EAEAEA" stroke-width="1.9"/>
<line x1="1625.3" y1="572.3" x2="1699.5" y2="572.3" stroke="#EAEAEA" stroke-width="1.8"/>
<line x1="1625.3" y1="510.62" x2="1699.5" y2="510.62" stroke="#EAEAEA" stroke-width="1.5"/>
<line x1="1625.3" y1="448.95" x2="1699.5" y2="448.95" stroke="#EAEAEA" stroke-width="1.8"/>
<line x1="1625.3" y1="387.27" x2="1699.5" y2="387.27" stroke="#EAEAEA" stroke-width="1.5"/>
<line x1="1625.3" y1="325.6" x2="1699.5" y2="325.6" stroke="#EAEAEA" stroke-width="1.8"/>
<line x1="1625.3" y1="263.92" x2="1699.5" y2="263.92" stroke="#EAEAEA" stroke-width="1.5"/>
<line x1="1625.3" y1="202.25" x2="1699.5" y2="202.25" stroke="#EAEAEA" stroke-width="1.8"/>
<line x1="1625.3" y1="140.57" x2="1699.5" y2="140.57" stroke="#EAEAEA" stroke-width="1.5"/>
<line x1="1662.5" y1="83" x2="1662.5" y2="595.5" stroke="#EAEAEA" stroke-width="1.9"/>
<line x1="1709.2" y1="572.3" x2="1844.6" y2="572.3" stroke="#EAEAEA" stroke-width="1.8"/>
<line x1="1709.2" y1="510.62" x2="1844.6" y2="510.62" stroke="#EAEAEA" stroke-width="1.5"/>
<line x1="1709.2" y1="448.95" x2="1844.6" y2="448.95" stroke="#EAEAEA" stroke-width="1.8"/>
<line x1="1709.2" y1="387.27" x2="1844.6" y2="387.27" stroke="#EAEAEA" stroke-width="1.5"/>
<line x1="1709.2" y1="325.6" x2="1844.6" y2="325.6" stroke="#EAEAEA" stroke-width="1.8"/>
<line x1="1709.2" y1="263.92" x2="1844.6" y2="263.92" stroke="#EAEAEA" stroke-width="1.5"/>
<line x1="1709.2" y1="202.25" x2="1844.6" y2="202.25" stroke="#EAEAEA" stroke-width="1.8"/>
<line x1="1709.2" y1="140.57" x2="1844.6" y2="140.57" stroke="#EAEAEA" stroke-width="1.5"/>
<line x1="1746.4" y1="83" x2="1746.4" y2="595.5" stroke="#EAEAEA" stroke-width="1.9"/>
<line x1="1808" y1="83" x2="1808" y2="595.5" stroke="#EAEAEA" stroke-width="1.9"/>
<line x1="1854.3" y1="572.3" x2="1990.4" y2="572.3" stroke="#EAEAEA" stroke-width="1.8"/>
<line x1="1854.3" y1="510.62" x2="1990.4" y2="510.62" stroke="#EAEAEA" stroke-width="1.5"/>
<line x1="1854.3" y1="448.95" x2="1990.4" y2="448.95" stroke="#EAEAEA" stroke-width="1.8"/>
<line x1="1854.3" y1="387.27" x2="1990.4" y2="387.27" stroke="#EAEAEA" stroke-width="1.5"/>
<line x1="1854.3" y1="325.6" x2="1990.4" y2="325.6" stroke="#EAEAEA" stroke-width="1.8"/>
<line x1="1854.3" y1="263.92" x2="1990.4" y2="263.92" stroke="#EAEAEA" stroke-width="1.5"/>
<line x1="1854.3" y1="202.25" x2="1990.4" y2="202.25" stroke="#EAEAEA" stroke-width="1.8"/>
<line x1="1854.3" y1="140.57" x2="1990.4" y2="140.57" stroke="#EAEAEA" stroke-width="1.5"/>
<line x1="1891.8" y1="83" x2="1891.8" y2="595.5" stroke="#EAEAEA" stroke-width="1.9"/>
<line x1="1952.9" y1="83" x2="1952.9" y2="595.5" stroke="#EAEAEA" stroke-width="1.9"/>
<text x="1302.3" y="209.45" font-size="20.5" text-anchor="end" fill="#4D4D4D">0.75</text>
<text x="1302.3" y="332.8" font-size="20.5" text-anchor="end" fill="#4D4D4D">0.50</text>
<text x="1302.3" y="456.15" font-size="20.5" text-anchor="end" fill="#4D4D4D">0.25</text>
<text x="1302.3" y="579.5" font-size="20.5" text-anchor="end" fill="#4D4D4D">0.00</text>
<text x="1253.5" y="375" font-size="20.5" fill="#000" textLength="70.8" lengthAdjust="spacing" transform="rotate(-90 1253.5 375)">Overlap</text>
<rect x="1312.8" y="10.8" width="157" height="33.3" fill="none" stroke="#000" stroke-width="1.6"/>
<text x="1359.5" y="34" font-size="20.5" fill="#000" textLength="62" lengthAdjust="spacing">in-vitro</text>
<rect x="1312.8" y="44.1" width="73.1" height="33.9" fill="none" stroke="#000" stroke-width="1.6"/>
<text x="1317.5" y="68" font-size="20.5" fill="#000" textLength="62" lengthAdjust="spacing">p53 k.o</text>
<rect x="1396.8" y="44.1" width="73" height="33.9" fill="none" stroke="#000" stroke-width="1.6"/>
<text x="1403.5" y="68" font-size="20.5" fill="#000" textLength="61" lengthAdjust="spacing">p53 w.t</text>
<line x1="1312.3" y1="44.1" x2="1470.3" y2="44.1" stroke="#000" stroke-width="2.7" stroke-linecap="round"/>
<rect x="1479.8" y="10.8" width="509.9" height="33.3" fill="none" stroke="#000" stroke-width="1.6"/>
<text x="1717" y="34" font-size="20.5" fill="#000" textLength="33.5" lengthAdjust="spacing">pdx</text>
<rect x="1479.8" y="44.1" width="135" height="33.9" fill="none" stroke="#000" stroke-width="1.6"/>
<text x="1512.1" y="68.1" font-size="20.5" fill="#000" textLength="70.6" lengthAdjust="spacing">SA1035</text>
<rect x="1626.1" y="44.1" width="72.6" height="33.9" fill="none" stroke="#000" stroke-width="1.6"/>
<text x="1632.75" y="68.1" font-size="20.5" fill="#000" textLength="58.5" lengthAdjust="spacing">SA532</text>
<rect x="1710" y="44.1" width="133.8" height="33.9" fill="none" stroke="#000" stroke-width="1.6"/>
<text x="1747" y="67.75" font-size="20.5" fill="#000" textLength="59" lengthAdjust="spacing">SA535</text>
<rect x="1855.1" y="44.1" width="134.6" height="33.9" fill="none" stroke="#000" stroke-width="1.6"/>
<text x="1892.5" y="67.75" font-size="20.5" fill="#000" textLength="59" lengthAdjust="spacing">SA609</text>
<line x1="1479.3" y1="44.1" x2="1990.2" y2="44.1" stroke="#000" stroke-width="2.7" stroke-linecap="round"/>
<circle cx="1349.6" cy="115.8" r="7.7" fill="#D55E00"/>
<circle cx="1349.6" cy="198.4" r="7.7" fill="#D55E00"/>
<circle cx="1349.6" cy="202.4" r="7.7" fill="#D55E00"/>
<circle cx="1349.6" cy="217.7" r="7.7" fill="#D55E00"/>
<circle cx="1349.6" cy="244.8" r="7.7" fill="#D55E00"/>
<circle cx="1349.6" cy="251.4" r="7.7" fill="#D55E00"/>
<circle cx="1349.6" cy="265.4" r="7.7" fill="#D55E00"/>
<circle cx="1349.6" cy="289.3" r="7.7" fill="#D55E00"/>
<circle cx="1349.6" cy="303.8" r="7.7" fill="#D55E00"/>
<circle cx="1349.6" cy="321.1" r="7.7" fill="#D55E00"/>
<circle cx="1349.6" cy="333" r="7.7" fill="#D55E00"/>
<circle cx="1349.6" cy="353.6" r="7.7" fill="#D55E00"/>
<circle cx="1433" cy="106.5" r="7.7" fill="#D55E00"/>
<circle cx="1433" cy="209.8" r="7.7" fill="#D55E00"/>
<circle cx="1433" cy="378" r="7.7" fill="#D55E00"/>
<circle cx="1517.1" cy="158.2" r="7.7" fill="#D55E00"/>
<circle cx="1517.1" cy="178.8" r="7.7" fill="#D55E00"/>
<circle cx="1517.1" cy="347.3" r="7.7" fill="#D55E00"/>
<circle cx="1517.1" cy="371.4" r="7.7" fill="#D55E00"/>
<polygon points="1578.6,216.83 1568.1,234.63 1589.1,234.63" fill="#0072B2"/>
<polygon points="1578.6,263.63 1568.1,281.43 1589.1,281.43" fill="#0072B2"/>
<polygon points="1578.6,304.93 1568.1,322.73 1589.1,322.73" fill="#0072B2"/>
<polygon points="1578.6,327.23 1568.1,345.03 1589.1,345.03" fill="#0072B2"/>
<circle cx="1662.5" cy="264" r="7.7" fill="#D55E00"/>
<circle cx="1662.5" cy="312.9" r="7.7" fill="#D55E00"/>
<circle cx="1662.5" cy="331" r="7.7" fill="#D55E00"/>
<circle cx="1662.5" cy="464.6" r="7.7" fill="#D55E00"/>
<circle cx="1662.5" cy="471" r="7.7" fill="#D55E00"/>
<circle cx="1662.5" cy="502" r="7.7" fill="#D55E00"/>
<circle cx="1746.4" cy="344.7" r="7.7" fill="#D55E00"/>
<circle cx="1746.4" cy="401" r="7.7" fill="#D55E00"/>
<circle cx="1746.4" cy="421.8" r="7.7" fill="#D55E00"/>
<circle cx="1746.4" cy="438.2" r="7.7" fill="#D55E00"/>
<circle cx="1746.4" cy="469.2" r="7.7" fill="#D55E00"/>
<circle cx="1746.4" cy="490.1" r="7.7" fill="#D55E00"/>
<circle cx="1746.4" cy="513.4" r="7.7" fill="#D55E00"/>
<circle cx="1746.4" cy="523.8" r="7.7" fill="#D55E00"/>
<polygon points="1808,444.83 1797.5,462.63 1818.5,462.63" fill="#0072B2"/>
<polygon points="1808,487.13 1797.5,504.93 1818.5,504.93" fill="#0072B2"/>
<polygon points="1808,497.13 1797.5,514.93 1818.5,514.93" fill="#0072B2"/>
<polygon points="1808,526.03 1797.5,543.83 1818.5,543.83" fill="#0072B2"/>
<circle cx="1891.8" cy="334" r="7.7" fill="#D55E00"/>
<circle cx="1891.8" cy="396.8" r="7.7" fill="#D55E00"/>
<circle cx="1891.8" cy="429" r="7.7" fill="#D55E00"/>
<circle cx="1891.8" cy="455.6" r="7.7" fill="#D55E00"/>
<circle cx="1891.8" cy="486" r="7.7" fill="#D55E00"/>
<circle cx="1891.8" cy="492" r="7.7" fill="#D55E00"/>
<circle cx="1891.8" cy="499" r="7.7" fill="#D55E00"/>
<circle cx="1891.8" cy="505" r="7.7" fill="#D55E00"/>
<circle cx="1891.8" cy="511" r="7.7" fill="#D55E00"/>
<circle cx="1891.8" cy="534.5" r="7.7" fill="#D55E00"/>
<circle cx="1891.8" cy="539" r="7.7" fill="#D55E00"/>
<circle cx="1891.8" cy="543" r="7.7" fill="#D55E00"/>
<circle cx="1891.8" cy="558" r="7.7" fill="#D55E00"/>
<circle cx="1891.8" cy="572.2" r="7.7" fill="#D55E00"/>
<polygon points="1952.9,473.73 1942.4,491.53 1963.4,491.53" fill="#0072B2"/>
<polygon points="1952.9,498.13 1942.4,515.93 1963.4,515.93" fill="#0072B2"/>
<polygon points="1952.9,507.03 1942.4,524.83 1963.4,524.83" fill="#0072B2"/>
<polygon points="1952.9,550.43 1942.4,568.23 1963.4,568.23" fill="#0072B2"/>
<polygon points="1952.9,560.63 1942.4,578.43 1963.4,578.43" fill="#0072B2"/>
<rect x="1870.8" y="94.1" width="105.8" height="113.3" fill="#fff" stroke="#000" stroke-width="2.1"/>
<text x="1880.4" y="119.1" font-size="20.5" fill="#000" textLength="91.2" lengthAdjust="spacing">Treatment</text>
<circle cx="1896.5" cy="148.1" r="7.7" fill="#D55E00"/>
<polygon points="1896.5,169.13 1886,186.93 1907,186.93" fill="#0072B2"/>
<text x="1923" y="155" font-size="20.5" text-anchor="start" fill="#000">n</text>
<text x="1922.8" y="187.6" font-size="20.5" text-anchor="start" fill="#000">y</text>
<text x="1235" y="641.8" font-size="28" fill="#000" font-weight="bold" textLength="11.4" lengthAdjust="spacing">f</text>
<line x1="1579.3" y1="628.9" x2="1579.3" y2="1157" stroke="#000" stroke-width="2.6" stroke-dasharray="11.6,11.9"/>
<line x1="1431.7" y1="620.4" x2="1431.7" y2="1158.4" stroke="#000" stroke-width="2.2"/>
<line x1="1430.6" y1="1157.3" x2="1990.3" y2="1157.3" stroke="#000" stroke-width="2.2"/>
<line x1="1427.1" y1="664.6" x2="1431.7" y2="664.6" stroke="#000" stroke-width="2"/>
<text x="1241.6" y="671.5" font-size="20.5" fill="#4D4D4D" textLength="182" lengthAdjust="spacing">Distance × Same traj</text>
<line x1="1457.04" y1="664.6" x2="1527.25" y2="664.6" stroke="#000" stroke-width="4.4"/>
<line x1="1457.04" y1="655.3" x2="1457.04" y2="673.9" stroke="#000" stroke-width="4.2"/>
<line x1="1527.25" y1="655.3" x2="1527.25" y2="673.9" stroke="#000" stroke-width="4.2"/>
<circle cx="1486.1" cy="664.6" r="11" fill="#000"/>
<line x1="1427.1" y1="739.5" x2="1431.7" y2="739.5" stroke="#000" stroke-width="2"/>
<text x="1257.4" y="746" font-size="20.5" fill="#4D4D4D" textLength="165.4" lengthAdjust="spacing">Distance × Parallel</text>
<line x1="1542.85" y1="739.5" x2="1587.24" y2="739.5" stroke="#000" stroke-width="4.4"/>
<line x1="1542.85" y1="730.2" x2="1542.85" y2="748.8" stroke="#000" stroke-width="4.2"/>
<line x1="1587.24" y1="730.2" x2="1587.24" y2="748.8" stroke="#000" stroke-width="4.2"/>
<circle cx="1566.26" cy="739.5" r="11" fill="#000"/>
<line x1="1427.1" y1="814.7" x2="1431.7" y2="814.7" stroke="#000" stroke-width="2"/>
<text x="1285" y="821" font-size="20.5" fill="#4D4D4D" textLength="139" lengthAdjust="spacing">Same treatment</text>
<line x1="1571.64" y1="814.7" x2="1591.81" y2="814.7" stroke="#000" stroke-width="4.4"/>
<line x1="1571.64" y1="805.4" x2="1571.64" y2="824" stroke="#000" stroke-width="4.2"/>
<line x1="1591.81" y1="805.4" x2="1591.81" y2="824" stroke="#000" stroke-width="4.2"/>
<circle cx="1581.51" cy="814.7" r="11" fill="#000"/>
<line x1="1427.1" y1="889" x2="1431.7" y2="889" stroke="#000" stroke-width="2"/>
<text x="1281.5" y="895.5" font-size="20.5" fill="#4D4D4D" textLength="139" lengthAdjust="spacing">Same trajectory</text>
<line x1="1810.24" y1="889" x2="1964.91" y2="889" stroke="#000" stroke-width="4.4"/>
<line x1="1810.24" y1="879.7" x2="1810.24" y2="898.3" stroke="#000" stroke-width="4.2"/>
<line x1="1964.91" y1="879.7" x2="1964.91" y2="898.3" stroke="#000" stroke-width="4.2"/>
<circle cx="1891.1" cy="889" r="11" fill="#000"/>
<line x1="1427.1" y1="963.6" x2="1431.7" y2="963.6" stroke="#000" stroke-width="2"/>
<text x="1284.8" y="969.9" font-size="20.5" fill="#4D4D4D" textLength="137.4" lengthAdjust="spacing">Parallel lineage</text>
<line x1="1560.61" y1="963.6" x2="1687.04" y2="963.6" stroke="#000" stroke-width="4.4"/>
<line x1="1560.61" y1="954.3" x2="1560.61" y2="972.9" stroke="#000" stroke-width="4.2"/>
<line x1="1687.04" y1="954.3" x2="1687.04" y2="972.9" stroke="#000" stroke-width="4.2"/>
<circle cx="1617.91" cy="963.6" r="11" fill="#000"/>
<line x1="1427.1" y1="1038.4" x2="1431.7" y2="1038.4" stroke="#000" stroke-width="2"/>
<text x="1277" y="1044.5" font-size="20.5" fill="#4D4D4D" textLength="144.8" lengthAdjust="spacing">Distance (log₁₊)</text>
<line x1="1570.29" y1="1038.4" x2="1600.96" y2="1038.4" stroke="#000" stroke-width="4.4"/>
<line x1="1570.29" y1="1029.1" x2="1570.29" y2="1047.7" stroke="#000" stroke-width="4.2"/>
<line x1="1600.96" y1="1029.1" x2="1600.96" y2="1047.7" stroke="#000" stroke-width="4.2"/>
<circle cx="1585.36" cy="1038.4" r="11" fill="#000"/>
<line x1="1427.1" y1="1113" x2="1431.7" y2="1113" stroke="#000" stroke-width="2"/>
<text x="1261.3" y="1119.1" font-size="20.5" fill="#4D4D4D" textLength="159.2" lengthAdjust="spacing">Baseline similarity</text>
<line x1="1534.78" y1="1113" x2="1642.12" y2="1113" stroke="#000" stroke-width="4.4"/>
<line x1="1534.78" y1="1103.7" x2="1534.78" y2="1122.3" stroke="#000" stroke-width="4.2"/>
<line x1="1642.12" y1="1103.7" x2="1642.12" y2="1122.3" stroke="#000" stroke-width="4.2"/>
<circle cx="1584.01" cy="1113" r="11" fill="#000"/>
<line x1="1444.08" y1="1157.3" x2="1444.08" y2="1161.9" stroke="#000" stroke-width="2"/>
<text x="1444.08" y="1181.7" font-size="20.5" text-anchor="middle" fill="#4D4D4D">-0.5</text>
<line x1="1578.9" y1="1157.3" x2="1578.9" y2="1161.9" stroke="#000" stroke-width="2"/>
<text x="1578.9" y="1181.7" font-size="20.5" text-anchor="middle" fill="#4D4D4D">0.0</text>
<line x1="1713.73" y1="1157.3" x2="1713.73" y2="1161.9" stroke="#000" stroke-width="2"/>
<text x="1713.73" y="1181.7" font-size="20.5" text-anchor="middle" fill="#4D4D4D">0.5</text>
<line x1="1848.55" y1="1157.3" x2="1848.55" y2="1161.9" stroke="#000" stroke-width="2"/>
<text x="1848.55" y="1181.7" font-size="20.5" text-anchor="middle" fill="#4D4D4D">1.0</text>
<line x1="1983.38" y1="1157.3" x2="1983.38" y2="1161.9" stroke="#000" stroke-width="2"/>
<text x="1983.38" y="1181.7" font-size="20.5" text-anchor="middle" fill="#4D4D4D">1.5</text>
<text x="1562.75" y="1204.75" font-size="20.5" fill="#000" textLength="293.7" lengthAdjust="spacing">Median effect (95 % bootstrap CI)</text>
</svg>
</body></html>
